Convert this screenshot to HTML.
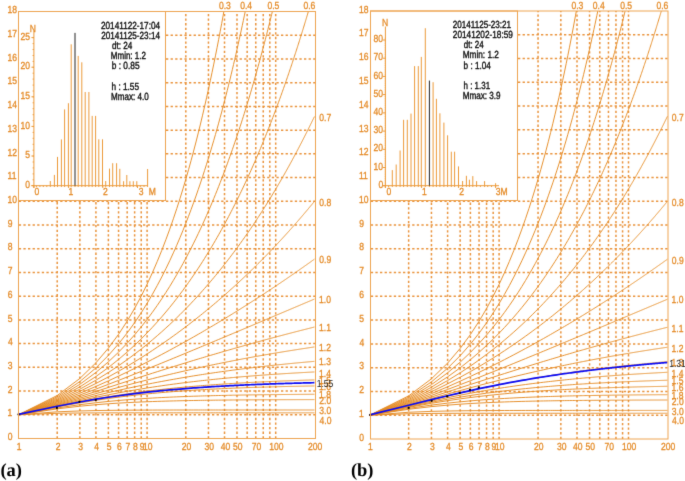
<!DOCTYPE html><html><head><meta charset="utf-8"><style>html,body{margin:0;padding:0;background:#fff;}svg{display:block;will-change:transform;}text{font-family:"Liberation Sans", sans-serif;text-rendering:geometricPrecision;}</style></head><body>
<svg width="685" height="481" viewBox="0 0 685 481">
<defs><filter id="soft" x="0" y="0" width="685" height="481" filterUnits="userSpaceOnUse" color-interpolation-filters="sRGB"><feConvolveMatrix order="3" kernelMatrix="1 8 1 8 64 8 1 8 1" divisor="100" edgeMode="duplicate" preserveAlpha="true"/></filter></defs>
<g filter="url(#soft)">
<rect width="685" height="481" fill="#fff"/>
<g stroke="#e9923a" stroke-width="1.50" stroke-dasharray="2.3 2.3" stroke-dashoffset="-0.30" fill="none"><line x1="18.50" y1="414.78" x2="315.50" y2="414.78"/><line x1="18.50" y1="391.06" x2="315.50" y2="391.06"/><line x1="18.50" y1="367.34" x2="315.50" y2="367.34"/><line x1="18.50" y1="343.62" x2="315.50" y2="343.62"/><line x1="18.50" y1="319.90" x2="315.50" y2="319.90"/><line x1="18.50" y1="296.18" x2="315.50" y2="296.18"/><line x1="18.50" y1="272.46" x2="315.50" y2="272.46"/><line x1="18.50" y1="248.74" x2="315.50" y2="248.74"/><line x1="18.50" y1="225.02" x2="315.50" y2="225.02"/><line x1="18.50" y1="201.30" x2="315.50" y2="201.30"/><line x1="18.50" y1="177.58" x2="315.50" y2="177.58"/><line x1="18.50" y1="153.86" x2="315.50" y2="153.86"/><line x1="18.50" y1="130.14" x2="315.50" y2="130.14"/><line x1="18.50" y1="106.42" x2="315.50" y2="106.42"/><line x1="18.50" y1="82.70" x2="315.50" y2="82.70"/><line x1="18.50" y1="58.98" x2="315.50" y2="58.98"/><line x1="18.50" y1="35.26" x2="315.50" y2="35.26"/></g>
<g stroke="#e9923a" stroke-width="1.50" stroke-dasharray="2.3 2.29" stroke-dashoffset="0.00" fill="none"><line x1="57.21" y1="438.50" x2="57.21" y2="11.50"/><line x1="79.86" y1="438.50" x2="79.86" y2="11.50"/><line x1="95.92" y1="438.50" x2="95.92" y2="11.50"/><line x1="108.39" y1="438.50" x2="108.39" y2="11.50"/><line x1="118.57" y1="438.50" x2="118.57" y2="11.50"/><line x1="127.18" y1="438.50" x2="127.18" y2="11.50"/><line x1="134.64" y1="438.50" x2="134.64" y2="11.50"/><line x1="141.22" y1="438.50" x2="141.22" y2="11.50"/><line x1="147.10" y1="438.50" x2="147.10" y2="11.50"/><line x1="185.81" y1="438.50" x2="185.81" y2="11.50"/><line x1="208.46" y1="438.50" x2="208.46" y2="11.50"/><line x1="224.52" y1="438.50" x2="224.52" y2="11.50"/><line x1="236.99" y1="438.50" x2="236.99" y2="11.50"/><line x1="247.17" y1="438.50" x2="247.17" y2="11.50"/><line x1="255.78" y1="438.50" x2="255.78" y2="11.50"/><line x1="263.24" y1="438.50" x2="263.24" y2="11.50"/><line x1="269.82" y1="438.50" x2="269.82" y2="11.50"/><line x1="275.70" y1="438.50" x2="275.70" y2="11.50"/></g>
<g stroke="#e58a22" stroke-width="0.95" fill="none" stroke-linejoin="round"><polyline points="18.50,414.78 57.21,395.51 79.86,378.45 95.92,362.80 108.39,348.17 118.57,334.31 127.18,321.08 134.64,308.37 141.22,296.10 147.10,284.21 152.42,272.66 157.28,261.40 161.75,250.41 165.89,239.67 169.75,229.14 173.35,218.82 176.74,208.68 179.93,198.71 182.95,188.91 185.81,179.25 188.54,169.73 191.14,160.35 193.62,151.09 196.00,141.95 198.28,132.92 200.47,123.99 202.57,115.17 204.60,106.44 206.56,97.80 208.46,89.25 210.29,80.78 212.06,72.40 213.78,64.09 215.45,55.85 217.07,47.69 218.64,39.59 220.17,31.56 221.66,23.60 223.11,15.70 223.87,11.50"/><polyline points="18.50,414.78 57.21,396.80 79.86,381.52 95.92,367.90 108.39,355.43 118.57,343.85 127.18,332.96 134.64,322.63 141.22,312.79 147.10,303.34 152.42,294.25 157.28,285.47 161.75,276.97 165.89,268.72 169.75,260.69 173.35,252.86 176.74,245.23 179.93,237.76 182.95,230.46 185.81,223.30 188.54,216.28 191.14,209.39 193.62,202.63 196.00,195.97 198.28,189.43 200.47,182.98 202.57,176.64 204.60,170.38 206.56,164.21 208.46,158.13 210.29,152.12 212.06,146.19 213.78,140.33 215.45,134.55 217.07,128.83 218.64,123.17 220.17,117.57 221.66,112.04 223.11,106.56 224.52,101.13 225.90,95.76 227.25,90.45 228.56,85.18 229.85,79.96 231.10,74.78 232.33,69.65 233.53,64.57 234.71,59.53 235.86,54.52 236.99,49.56 238.09,44.64 239.18,39.76 240.24,34.91 241.29,30.10 242.31,25.33 243.32,20.59 244.31,15.88 245.22,11.50"/><polyline points="18.50,414.78 57.21,398.01 79.86,384.31 95.92,372.45 108.39,361.84 118.57,352.16 127.18,343.20 134.64,334.81 141.22,326.90 147.10,319.40 152.42,312.25 157.28,305.40 161.75,298.82 165.89,292.48 169.75,286.36 173.35,280.43 176.74,274.68 179.93,269.09 182.95,263.64 185.81,258.34 188.54,253.16 191.14,248.11 193.62,243.16 196.00,238.32 198.28,233.58 200.47,228.92 202.57,224.36 204.60,219.88 206.56,215.47 208.46,211.14 210.29,206.88 212.06,202.69 213.78,198.56 215.45,194.49 217.07,190.48 218.64,186.53 220.17,182.63 221.66,178.78 223.11,174.98 224.52,171.23 225.90,167.53 227.25,163.87 228.56,160.25 229.85,156.67 231.10,153.14 232.33,149.64 233.53,146.18 234.71,142.76 235.86,139.37 236.99,136.01 238.09,132.69 239.18,129.40 240.24,126.14 241.29,122.92 242.31,119.72 243.32,116.55 244.31,113.41 245.28,110.29 246.23,107.20 247.17,104.14 248.09,101.10 249.00,98.09 249.90,95.10 250.77,92.14 251.64,89.20 252.49,86.28 253.33,83.38 254.16,80.50 254.98,77.65 255.78,74.81 256.57,72.00 257.35,69.20 258.12,66.43 258.88,63.67 259.63,60.93 260.37,58.21 261.10,55.51 261.82,52.82 262.53,50.15 263.24,47.50 263.93,44.86 264.62,42.24 265.29,39.64 265.96,37.05 266.62,34.48 267.28,31.92 267.92,29.38 268.56,26.85 269.19,24.34 269.82,21.84 270.43,19.35 271.04,16.88 271.65,14.42 272.24,11.97 272.36,11.50"/><polyline points="18.50,414.78 57.21,399.13 79.86,386.86 95.92,376.54 108.39,367.51 118.57,359.41 127.18,352.03 134.64,345.22 141.22,338.87 147.10,332.91 152.42,327.29 157.28,321.95 161.75,316.85 165.89,311.99 169.75,307.31 173.35,302.82 176.74,298.49 179.93,294.30 182.95,290.25 185.81,286.31 188.54,282.50 191.14,278.78 193.62,275.17 196.00,271.65 198.28,268.21 200.47,264.85 202.57,261.57 204.60,258.35 206.56,255.21 208.46,252.13 210.29,249.10 212.06,246.14 213.78,243.23 215.45,240.37 217.07,237.56 218.64,234.80 220.17,232.08 221.66,229.40 223.11,226.77 224.52,224.18 225.90,221.62 227.25,219.10 228.56,216.62 229.85,214.17 231.10,211.76 232.33,209.37 233.53,207.02 234.71,204.69 235.86,202.40 236.99,200.13 238.09,197.88 239.18,195.67 240.24,193.48 241.29,191.31 242.31,189.17 243.32,187.05 244.31,184.95 245.28,182.88 246.23,180.82 247.17,178.79 248.09,176.78 249.00,174.78 249.90,172.81 250.77,170.85 251.64,168.92 252.49,166.99 253.33,165.09 254.16,163.21 254.98,161.34 255.78,159.48 256.57,157.64 257.35,155.82 258.12,154.01 258.88,152.22 259.63,150.44 260.37,148.68 261.10,146.93 261.82,145.19 262.53,143.47 263.24,141.75 263.93,140.06 264.62,138.37 265.29,136.70 265.96,135.03 266.62,133.38 267.28,131.75 267.92,130.12 268.56,128.50 269.19,126.90 269.82,125.30 270.43,123.72 271.04,122.15 271.65,120.58 272.24,119.03 272.84,117.49 273.42,115.95 274.00,114.43 274.57,112.91 275.14,111.41 275.70,109.91 276.26,108.42 276.81,106.95 277.35,105.47 277.89,104.01 278.42,102.56 278.95,101.11 279.48,99.68 280.00,98.25 280.51,96.83 281.02,95.41 281.53,94.01 282.03,92.61 282.53,91.22 283.02,89.84 283.51,88.46 283.99,87.09 284.47,85.73 284.94,84.37 285.42,83.02 285.88,81.68 286.35,80.35 286.81,79.02 287.26,77.70 287.71,76.38 288.16,75.07 288.61,73.77 289.05,72.47 289.49,71.18 289.92,69.90 290.35,68.62 290.78,67.35 291.21,66.08 291.63,64.82 292.05,63.56 292.46,62.31 292.87,61.07 293.28,59.83 293.69,58.60 294.09,57.37 294.49,56.14 294.89,54.93 295.28,53.71 295.68,52.51 296.07,51.30 296.45,50.11 296.84,48.91 297.22,47.73 297.60,46.54 297.97,45.37 298.35,44.19 298.72,43.02 299.09,41.86 299.45,40.70 299.82,39.54 300.18,38.39 300.54,37.25 300.89,36.11 301.25,34.97 301.60,33.84 301.95,32.71 302.30,31.58 302.64,30.46 302.99,29.34 303.33,28.23 303.67,27.12 304.01,26.02 304.34,24.92 304.67,23.82 305.01,22.73 305.34,21.64 305.66,20.56 305.99,19.48 306.31,18.40 306.63,17.33 306.95,16.26 307.27,15.19 307.59,14.13 307.90,13.07 308.22,12.01 308.37,11.50"/><polyline points="18.50,414.78 57.21,400.18 79.86,389.19 95.92,380.20 108.39,372.51 118.57,365.74 127.18,359.67 134.64,354.13 141.22,349.04 147.10,344.31 152.42,339.88 157.28,335.71 161.75,331.77 165.89,328.03 169.75,324.47 173.35,321.07 176.74,317.80 179.93,314.66 182.95,311.64 185.81,308.73 188.54,305.92 191.14,303.19 193.62,300.55 196.00,297.98 198.28,295.49 200.47,293.07 202.57,290.71 204.60,288.40 206.56,286.16 208.46,283.96 210.29,281.82 212.06,279.72 213.78,277.67 215.45,275.66 217.07,273.69 218.64,271.76 220.17,269.87 221.66,268.01 223.11,266.19 224.52,264.39 225.90,262.63 227.25,260.90 228.56,259.19 229.85,257.51 231.10,255.86 232.33,254.24 233.53,252.63 234.71,251.06 235.86,249.50 236.99,247.97 238.09,246.45 239.18,244.96 240.24,243.49 241.29,242.03 242.31,240.60 243.32,239.18 244.31,237.78 245.28,236.40 246.23,235.03 247.17,233.68 248.09,232.35 249.00,231.03 249.90,229.72 250.77,228.43 251.64,227.16 252.49,225.89 253.33,224.64 254.16,223.41 254.98,222.18 255.78,220.97 256.57,219.77 257.35,218.58 258.12,217.40 258.88,216.24 259.63,215.08 260.37,213.94 261.10,212.81 261.82,211.68 262.53,210.57 263.24,209.46 263.93,208.37 264.62,207.28 265.29,206.21 265.96,205.14 266.62,204.08 267.28,203.03 267.92,201.99 268.56,200.96 269.19,199.94 269.82,198.92 270.43,197.91 271.04,196.91 271.65,195.92 272.24,194.93 272.84,193.95 273.42,192.98 274.00,192.01 274.57,191.06 275.14,190.11 275.70,189.16 276.26,188.22 276.81,187.29 277.35,186.37 277.89,185.45 278.42,184.54 278.95,183.63 279.48,182.73 280.00,181.83 280.51,180.95 281.02,180.06 281.53,179.18 282.03,178.31 282.53,177.44 283.02,176.58 283.51,175.73 283.99,174.88 284.47,174.03 284.94,173.19 285.42,172.35 285.88,171.52 286.35,170.70 286.81,169.87 287.26,169.06 287.71,168.24 288.16,167.44 288.61,166.63 289.05,165.83 289.49,165.04 289.92,164.25 290.35,163.46 290.78,162.68 291.21,161.91 291.63,161.13 292.05,160.36 292.46,159.60 292.87,158.84 293.28,158.08 293.69,157.32 294.09,156.57 294.49,155.83 294.89,155.09 295.28,154.35 295.68,153.61 296.07,152.88 296.45,152.15 296.84,151.43 297.22,150.71 297.60,149.99 297.97,149.27 298.35,148.56 298.72,147.86 299.09,147.15 299.45,146.45 299.82,145.75 300.18,145.06 300.54,144.37 300.89,143.68 301.25,142.99 301.60,142.31 301.95,141.63 302.30,140.95 302.64,140.28 302.99,139.61 303.33,138.94 303.67,138.28 304.01,137.61 304.34,136.95 304.67,136.30 305.01,135.64 305.34,134.99 305.66,134.34 305.99,133.70 306.31,133.05 306.63,132.41 306.95,131.77 307.27,131.14 307.59,130.51 307.90,129.87 308.22,129.25 308.53,128.62 308.84,128.00 309.15,127.38 309.45,126.76 309.76,126.14 310.06,125.53 310.36,124.92 310.66,124.31 310.96,123.70 311.25,123.10 311.55,122.49 311.84,121.89 312.13,121.29 312.42,120.70 312.71,120.10 313.00,119.51 313.28,118.92 313.57,118.34 313.85,117.75 314.13,117.17 314.41,116.59"/><polyline points="18.50,414.78 57.21,401.16 79.86,391.31 95.92,383.48 108.39,376.94 118.57,371.28 127.18,366.28 134.64,361.78 141.22,357.69 147.10,353.94 152.42,350.45 157.28,347.20 161.75,344.16 165.89,341.28 169.75,338.57 173.35,335.98 176.74,333.52 179.93,331.18 182.95,328.93 185.81,326.77 188.54,324.69 191.14,322.69 193.62,320.76 196.00,318.89 198.28,317.09 200.47,315.34 202.57,313.64 204.60,311.99 206.56,310.38 208.46,308.82 210.29,307.30 212.06,305.82 213.78,304.37 215.45,302.96 217.07,301.58 218.64,300.23 220.17,298.91 221.66,297.62 223.11,296.35 224.52,295.11 225.90,293.90 227.25,292.71 228.56,291.54 229.85,290.39 231.10,289.26 232.33,288.15 233.53,287.06 234.71,285.99 235.86,284.93 236.99,283.90 238.09,282.87 239.18,281.87 240.24,280.88 241.29,279.90 242.31,278.94 243.32,277.99 244.31,277.06 245.28,276.14 246.23,275.23 247.17,274.33 248.09,273.45 249.00,272.58 249.90,271.71 250.77,270.86 251.64,270.02 252.49,269.19 253.33,268.37 254.16,267.56 254.98,266.76 255.78,265.96 256.57,265.18 257.35,264.41 258.12,263.64 258.88,262.88 259.63,262.13 260.37,261.39 261.10,260.65 261.82,259.93 262.53,259.21 263.24,258.50 263.93,257.79 264.62,257.09 265.29,256.40 265.96,255.72 266.62,255.04 267.28,254.37 267.92,253.70 268.56,253.04 269.19,252.39 269.82,251.74 270.43,251.09 271.04,250.46 271.65,249.83 272.24,249.20 272.84,248.58 273.42,247.96 274.00,247.35 274.57,246.75 275.14,246.15 275.70,245.55 276.26,244.96 276.81,244.37 277.35,243.79 277.89,243.21 278.42,242.64 278.95,242.07 279.48,241.51 280.00,240.95 280.51,240.39 281.02,239.84 281.53,239.29 282.03,238.75 282.53,238.21 283.02,237.67 283.51,237.14 283.99,236.61 284.47,236.08 284.94,235.56 285.42,235.04 285.88,234.53 286.35,234.02 286.81,233.51 287.26,233.00 287.71,232.50 288.16,232.00 288.61,231.51 289.05,231.02 289.49,230.53 289.92,230.04 290.35,229.56 290.78,229.08 291.21,228.60 291.63,228.13 292.05,227.65 292.46,227.19 292.87,226.72 293.28,226.26 293.69,225.80 294.09,225.34 294.49,224.88 294.89,224.43 295.28,223.98 295.68,223.53 296.07,223.09 296.45,222.65 296.84,222.21 297.22,221.77 297.60,221.33 297.97,220.90 298.35,220.47 298.72,220.04 299.09,219.61 299.45,219.19 299.82,218.77 300.18,218.35 300.54,217.93 300.89,217.52 301.25,217.10 301.60,216.69 301.95,216.28 302.30,215.88 302.64,215.47 302.99,215.07 303.33,214.67 303.67,214.27 304.01,213.87 304.34,213.47 304.67,213.08 305.01,212.69 305.34,212.30 305.66,211.91 305.99,211.53 306.31,211.14 306.63,210.76 306.95,210.38 307.27,210.00 307.59,209.62 307.90,209.25 308.22,208.87 308.53,208.50 308.84,208.13 309.15,207.76 309.45,207.39 309.76,207.03 310.06,206.66 310.36,206.30 310.66,205.94 310.96,205.58 311.25,205.22 311.55,204.86 311.84,204.51 312.13,204.16 312.42,203.80 312.71,203.45 313.00,203.10 313.28,202.76 313.57,202.41 313.85,202.06 314.13,201.72 314.41,201.38"/><polyline points="18.50,414.78 57.21,402.07 79.86,393.24 95.92,386.43 108.39,380.86 118.57,376.13 127.18,372.01 134.64,368.36 141.22,365.08 147.10,362.09 152.42,359.35 157.28,356.82 161.75,354.46 165.89,352.26 169.75,350.18 173.35,348.23 176.74,346.37 179.93,344.61 182.95,342.94 185.81,341.34 188.54,339.81 191.14,338.34 193.62,336.93 196.00,335.57 198.28,334.26 200.47,333.00 202.57,331.77 204.60,330.59 206.56,329.45 208.46,328.34 210.29,327.26 212.06,326.21 213.78,325.19 215.45,324.20 217.07,323.23 218.64,322.29 220.17,321.37 221.66,320.47 223.11,319.59 224.52,318.73 225.90,317.90 227.25,317.07 228.56,316.27 229.85,315.48 231.10,314.71 232.33,313.96 233.53,313.21 234.71,312.49 235.86,311.77 236.99,311.07 238.09,310.38 239.18,309.70 240.24,309.04 241.29,308.38 242.31,307.74 243.32,307.11 244.31,306.48 245.28,305.87 246.23,305.27 247.17,304.67 248.09,304.08 249.00,303.51 249.90,302.94 250.77,302.37 251.64,301.82 252.49,301.27 253.33,300.73 254.16,300.20 254.98,299.68 255.78,299.16 256.57,298.65 257.35,298.14 258.12,297.64 258.88,297.15 259.63,296.66 260.37,296.18 261.10,295.71 261.82,295.24 262.53,294.77 263.24,294.31 263.93,293.86 264.62,293.41 265.29,292.96 265.96,292.52 266.62,292.09 267.28,291.66 267.92,291.23 268.56,290.81 269.19,290.39 269.82,289.98 270.43,289.57 271.04,289.16 271.65,288.76 272.24,288.37 272.84,287.97 273.42,287.58 274.00,287.20 274.57,286.81 275.14,286.43 275.70,286.06 276.26,285.69 276.81,285.32 277.35,284.95 277.89,284.59 278.42,284.23 278.95,283.87 279.48,283.52 280.00,283.17 280.51,282.82 281.02,282.47 281.53,282.13 282.03,281.79 282.53,281.45 283.02,281.12 283.51,280.79 283.99,280.46 284.47,280.13 284.94,279.81 285.42,279.49 285.88,279.17 286.35,278.85 286.81,278.54 287.26,278.23 287.71,277.92 288.16,277.61 288.61,277.30 289.05,277.00 289.49,276.70 289.92,276.40 290.35,276.10 290.78,275.81 291.21,275.52 291.63,275.23 292.05,274.94 292.46,274.65 292.87,274.36 293.28,274.08 293.69,273.80 294.09,273.52 294.49,273.24 294.89,272.97 295.28,272.69 295.68,272.42 296.07,272.15 296.45,271.88 296.84,271.61 297.22,271.35 297.60,271.08 297.97,270.82 298.35,270.56 298.72,270.30 299.09,270.04 299.45,269.79 299.82,269.53 300.18,269.28 300.54,269.03 300.89,268.77 301.25,268.53 301.60,268.28 301.95,268.03 302.30,267.79 302.64,267.54 302.99,267.30 303.33,267.06 303.67,266.82 304.01,266.58 304.34,266.35 304.67,266.11 305.01,265.88 305.34,265.64 305.66,265.41 305.99,265.18 306.31,264.95 306.63,264.72 306.95,264.49 307.27,264.27 307.59,264.04 307.90,263.82 308.22,263.60 308.53,263.38 308.84,263.16 309.15,262.94 309.45,262.72 309.76,262.50 310.06,262.28 310.36,262.07 310.66,261.86 310.96,261.64 311.25,261.43 311.55,261.22 311.84,261.01 312.13,260.80 312.42,260.59 312.71,260.39 313.00,260.18 313.28,259.97 313.57,259.77 313.85,259.57 314.13,259.36 314.41,259.16"/><polyline points="18.50,414.78 57.21,402.92 79.86,395.01 95.92,389.08 108.39,384.34 118.57,380.39 127.18,377.00 134.64,374.03 141.22,371.40 147.10,369.02 152.42,366.87 157.28,364.89 161.75,363.07 165.89,361.37 169.75,359.79 173.35,358.31 176.74,356.91 179.93,355.60 182.95,354.35 185.81,353.16 188.54,352.03 191.14,350.95 193.62,349.92 196.00,348.93 198.28,347.99 200.47,347.07 202.57,346.19 204.60,345.35 206.56,344.53 208.46,343.74 210.29,342.97 212.06,342.23 213.78,341.51 215.45,340.82 217.07,340.14 218.64,339.48 220.17,338.84 221.66,338.21 223.11,337.61 224.52,337.01 225.90,336.43 227.25,335.87 228.56,335.32 229.85,334.78 231.10,334.25 232.33,333.74 233.53,333.23 234.71,332.74 235.86,332.25 236.99,331.78 238.09,331.31 239.18,330.86 240.24,330.41 241.29,329.97 242.31,329.54 243.32,329.12 244.31,328.70 245.28,328.29 246.23,327.89 247.17,327.49 248.09,327.10 249.00,326.72 249.90,326.35 250.77,325.97 251.64,325.61 252.49,325.25 253.33,324.90 254.16,324.55 254.98,324.20 255.78,323.87 256.57,323.53 257.35,323.20 258.12,322.88 258.88,322.56 259.63,322.24 260.37,321.93 261.10,321.62 261.82,321.32 262.53,321.02 263.24,320.72 263.93,320.43 264.62,320.14 265.29,319.85 265.96,319.57 266.62,319.29 267.28,319.01 267.92,318.74 268.56,318.47 269.19,318.20 269.82,317.94 270.43,317.68 271.04,317.42 271.65,317.17 272.24,316.92 272.84,316.67 273.42,316.42 274.00,316.17 274.57,315.93 275.14,315.69 275.70,315.46 276.26,315.22 276.81,314.99 277.35,314.76 277.89,314.53 278.42,314.30 278.95,314.08 279.48,313.86 280.00,313.64 280.51,313.42 281.02,313.21 281.53,312.99 282.03,312.78 282.53,312.57 283.02,312.36 283.51,312.16 283.99,311.95 284.47,311.75 284.94,311.55 285.42,311.35 285.88,311.15 286.35,310.95 286.81,310.76 287.26,310.57 287.71,310.38 288.16,310.19 288.61,310.00 289.05,309.81 289.49,309.63 289.92,309.44 290.35,309.26 290.78,309.08 291.21,308.90 291.63,308.72 292.05,308.54 292.46,308.37 292.87,308.19 293.28,308.02 293.69,307.85 294.09,307.68 294.49,307.51 294.89,307.34 295.28,307.17 295.68,307.01 296.07,306.84 296.45,306.68 296.84,306.52 297.22,306.35 297.60,306.19 297.97,306.04 298.35,305.88 298.72,305.72 299.09,305.56 299.45,305.41 299.82,305.25 300.18,305.10 300.54,304.95 300.89,304.80 301.25,304.65 301.60,304.50 301.95,304.35 302.30,304.20 302.64,304.06 302.99,303.91 303.33,303.77 303.67,303.62 304.01,303.48 304.34,303.34 304.67,303.20 305.01,303.06 305.34,302.92 305.66,302.78 305.99,302.64 306.31,302.50 306.63,302.37 306.95,302.23 307.27,302.10 307.59,301.96 307.90,301.83 308.22,301.70 308.53,301.57 308.84,301.43 309.15,301.30 309.45,301.17 309.76,301.05 310.06,300.92 310.36,300.79 310.66,300.66 310.96,300.54 311.25,300.41 311.55,300.29 311.84,300.16 312.13,300.04 312.42,299.92 312.71,299.79 313.00,299.67 313.28,299.55 313.57,299.43 313.85,299.31 314.13,299.19 314.41,299.07"/><polyline points="18.50,414.78 57.21,403.71 79.86,396.63 95.92,391.47 108.39,387.43 118.57,384.12 127.18,381.33 134.64,378.93 141.22,376.81 147.10,374.93 152.42,373.23 157.28,371.69 161.75,370.28 165.89,368.98 169.75,367.77 173.35,366.65 176.74,365.59 179.93,364.61 182.95,363.68 185.81,362.80 188.54,361.97 191.14,361.17 193.62,360.42 196.00,359.70 198.28,359.01 200.47,358.35 202.57,357.72 204.60,357.12 206.56,356.53 208.46,355.97 210.29,355.43 212.06,354.90 213.78,354.40 215.45,353.91 217.07,353.43 218.64,352.97 220.17,352.52 221.66,352.09 223.11,351.67 224.52,351.26 225.90,350.86 227.25,350.47 228.56,350.09 229.85,349.72 231.10,349.36 232.33,349.01 233.53,348.67 234.71,348.33 235.86,348.00 236.99,347.68 238.09,347.37 239.18,347.06 240.24,346.76 241.29,346.47 242.31,346.18 243.32,345.89 244.31,345.62 245.28,345.34 246.23,345.08 247.17,344.81 248.09,344.56 249.00,344.30 249.90,344.05 250.77,343.81 251.64,343.57 252.49,343.33 253.33,343.10 254.16,342.87 254.98,342.65 255.78,342.42 256.57,342.21 257.35,341.99 258.12,341.78 258.88,341.57 259.63,341.37 260.37,341.16 261.10,340.96 261.82,340.77 262.53,340.57 263.24,340.38 263.93,340.19 264.62,340.01 265.29,339.82 265.96,339.64 266.62,339.46 267.28,339.29 267.92,339.11 268.56,338.94 269.19,338.77 269.82,338.60 270.43,338.44 271.04,338.27 271.65,338.11 272.24,337.95 272.84,337.79 273.42,337.63 274.00,337.48 274.57,337.33 275.14,337.17 275.70,337.03 276.26,336.88 276.81,336.73 277.35,336.59 277.89,336.44 278.42,336.30 278.95,336.16 279.48,336.02 280.00,335.88 280.51,335.75 281.02,335.61 281.53,335.48 282.03,335.35 282.53,335.22 283.02,335.09 283.51,334.96 283.99,334.83 284.47,334.71 284.94,334.58 285.42,334.46 285.88,334.33 286.35,334.21 286.81,334.09 287.26,333.97 287.71,333.86 288.16,333.74 288.61,333.62 289.05,333.51 289.49,333.39 289.92,333.28 290.35,333.17 290.78,333.06 291.21,332.95 291.63,332.84 292.05,332.73 292.46,332.62 292.87,332.51 293.28,332.41 293.69,332.30 294.09,332.20 294.49,332.10 294.89,331.99 295.28,331.89 295.68,331.79 296.07,331.69 296.45,331.59 296.84,331.49 297.22,331.39 297.60,331.30 297.97,331.20 298.35,331.11 298.72,331.01 299.09,330.92 299.45,330.82 299.82,330.73 300.18,330.64 300.54,330.54 300.89,330.45 301.25,330.36 301.60,330.27 301.95,330.18 302.30,330.10 302.64,330.01 302.99,329.92 303.33,329.83 303.67,329.75 304.01,329.66 304.34,329.58 304.67,329.49 305.01,329.41 305.34,329.32 305.66,329.24 305.99,329.16 306.31,329.08 306.63,329.00 306.95,328.91 307.27,328.83 307.59,328.75 307.90,328.67 308.22,328.60 308.53,328.52 308.84,328.44 309.15,328.36 309.45,328.28 309.76,328.21 310.06,328.13 310.36,328.06 310.66,327.98 310.96,327.91 311.25,327.83 311.55,327.76 311.84,327.69 312.13,327.61 312.42,327.54 312.71,327.47 313.00,327.40 313.28,327.32 313.57,327.25 313.85,327.18 314.13,327.11 314.41,327.04"/><polyline points="18.50,414.78 57.21,404.46 79.86,398.11 95.92,393.61 108.39,390.18 118.57,387.41 127.18,385.12 134.64,383.16 141.22,381.46 147.10,379.97 152.42,378.63 157.28,377.43 161.75,376.34 165.89,375.34 169.75,374.42 173.35,373.57 176.74,372.77 179.93,372.03 182.95,371.34 185.81,370.69 188.54,370.08 191.14,369.49 193.62,368.94 196.00,368.42 198.28,367.92 200.47,367.45 202.57,366.99 204.60,366.56 206.56,366.14 208.46,365.74 210.29,365.35 212.06,364.98 213.78,364.63 215.45,364.28 217.07,363.95 218.64,363.63 220.17,363.32 221.66,363.01 223.11,362.72 224.52,362.44 225.90,362.16 227.25,361.90 228.56,361.64 229.85,361.38 231.10,361.14 232.33,360.90 233.53,360.66 234.71,360.44 235.86,360.21 236.99,360.00 238.09,359.78 239.18,359.58 240.24,359.37 241.29,359.18 242.31,358.98 243.32,358.79 244.31,358.61 245.28,358.43 246.23,358.25 247.17,358.08 248.09,357.90 249.00,357.74 249.90,357.57 250.77,357.41 251.64,357.25 252.49,357.10 253.33,356.94 254.16,356.79 254.98,356.65 255.78,356.50 256.57,356.36 257.35,356.22 258.12,356.08 258.88,355.95 259.63,355.81 260.37,355.68 261.10,355.55 261.82,355.43 262.53,355.30 263.24,355.18 263.93,355.05 264.62,354.94 265.29,354.82 265.96,354.70 266.62,354.59 267.28,354.47 267.92,354.36 268.56,354.25 269.19,354.14 269.82,354.04 270.43,353.93 271.04,353.83 271.65,353.72 272.24,353.62 272.84,353.52 273.42,353.42 274.00,353.32 274.57,353.23 275.14,353.13 275.70,353.04 276.26,352.94 276.81,352.85 277.35,352.76 277.89,352.67 278.42,352.58 278.95,352.49 279.48,352.41 280.00,352.32 280.51,352.23 281.02,352.15 281.53,352.07 282.03,351.98 282.53,351.90 283.02,351.82 283.51,351.74 283.99,351.66 284.47,351.58 284.94,351.51 285.42,351.43 285.88,351.35 286.35,351.28 286.81,351.21 287.26,351.13 287.71,351.06 288.16,350.99 288.61,350.91 289.05,350.84 289.49,350.77 289.92,350.70 290.35,350.64 290.78,350.57 291.21,350.50 291.63,350.43 292.05,350.37 292.46,350.30 292.87,350.23 293.28,350.17 293.69,350.11 294.09,350.04 294.49,349.98 294.89,349.92 295.28,349.85 295.68,349.79 296.07,349.73 296.45,349.67 296.84,349.61 297.22,349.55 297.60,349.49 297.97,349.43 298.35,349.38 298.72,349.32 299.09,349.26 299.45,349.21 299.82,349.15 300.18,349.09 300.54,349.04 300.89,348.98 301.25,348.93 301.60,348.87 301.95,348.82 302.30,348.77 302.64,348.71 302.99,348.66 303.33,348.61 303.67,348.56 304.01,348.51 304.34,348.46 304.67,348.40 305.01,348.35 305.34,348.30 305.66,348.25 305.99,348.21 306.31,348.16 306.63,348.11 306.95,348.06 307.27,348.01 307.59,347.96 307.90,347.92 308.22,347.87 308.53,347.82 308.84,347.78 309.15,347.73 309.45,347.69 309.76,347.64 310.06,347.59 310.36,347.55 310.66,347.51 310.96,347.46 311.25,347.42 311.55,347.37 311.84,347.33 312.13,347.29 312.42,347.24 312.71,347.20 313.00,347.16 313.28,347.12 313.57,347.07 313.85,347.03 314.13,346.99 314.41,346.95"/><polyline points="18.50,414.78 57.21,405.15 79.86,399.46 95.92,395.55 108.39,392.62 118.57,390.31 127.18,388.42 134.64,386.83 141.22,385.47 147.10,384.28 152.42,383.23 157.28,382.29 161.75,381.45 165.89,380.68 169.75,379.98 173.35,379.33 176.74,378.74 179.93,378.18 182.95,377.67 185.81,377.18 188.54,376.73 191.14,376.30 193.62,375.90 196.00,375.52 198.28,375.16 200.47,374.81 202.57,374.49 204.60,374.18 206.56,373.88 208.46,373.59 210.29,373.32 212.06,373.06 213.78,372.81 215.45,372.56 217.07,372.33 218.64,372.11 220.17,371.89 221.66,371.68 223.11,371.48 224.52,371.28 225.90,371.09 227.25,370.91 228.56,370.73 229.85,370.56 231.10,370.39 232.33,370.22 233.53,370.06 234.71,369.91 235.86,369.76 236.99,369.61 238.09,369.47 239.18,369.33 240.24,369.19 241.29,369.06 242.31,368.93 243.32,368.81 244.31,368.68 245.28,368.56 246.23,368.44 247.17,368.33 248.09,368.21 249.00,368.10 249.90,367.99 250.77,367.89 251.64,367.78 252.49,367.68 253.33,367.58 254.16,367.48 254.98,367.39 255.78,367.29 256.57,367.20 257.35,367.11 258.12,367.02 258.88,366.93 259.63,366.84 260.37,366.76 261.10,366.67 261.82,366.59 262.53,366.51 263.24,366.43 263.93,366.35 264.62,366.27 265.29,366.20 265.96,366.12 266.62,366.05 267.28,365.98 267.92,365.91 268.56,365.84 269.19,365.77 269.82,365.70 270.43,365.63 271.04,365.56 271.65,365.50 272.24,365.43 272.84,365.37 273.42,365.31 274.00,365.25 274.57,365.19 275.14,365.12 275.70,365.07 276.26,365.01 276.81,364.95 277.35,364.89 277.89,364.83 278.42,364.78 278.95,364.72 279.48,364.67 280.00,364.61 280.51,364.56 281.02,364.51 281.53,364.46 282.03,364.41 282.53,364.35 283.02,364.30 283.51,364.25 283.99,364.21 284.47,364.16 284.94,364.11 285.42,364.06 285.88,364.01 286.35,363.97 286.81,363.92 287.26,363.88 287.71,363.83 288.16,363.79 288.61,363.74 289.05,363.70 289.49,363.66 289.92,363.61 290.35,363.57 290.78,363.53 291.21,363.49 291.63,363.45 292.05,363.41 292.46,363.36 292.87,363.32 293.28,363.29 293.69,363.25 294.09,363.21 294.49,363.17 294.89,363.13 295.28,363.09 295.68,363.06 296.07,363.02 296.45,362.98 296.84,362.95 297.22,362.91 297.60,362.87 297.97,362.84 298.35,362.80 298.72,362.77 299.09,362.73 299.45,362.70 299.82,362.66 300.18,362.63 300.54,362.60 300.89,362.56 301.25,362.53 301.60,362.50 301.95,362.47 302.30,362.43 302.64,362.40 302.99,362.37 303.33,362.34 303.67,362.31 304.01,362.28 304.34,362.25 304.67,362.22 305.01,362.19 305.34,362.16 305.66,362.13 305.99,362.10 306.31,362.07 306.63,362.04 306.95,362.01 307.27,361.98 307.59,361.95 307.90,361.93 308.22,361.90 308.53,361.87 308.84,361.84 309.15,361.82 309.45,361.79 309.76,361.76 310.06,361.73 310.36,361.71 310.66,361.68 310.96,361.66 311.25,361.63 311.55,361.60 311.84,361.58 312.13,361.55 312.42,361.53 312.71,361.50 313.00,361.48 313.28,361.45 313.57,361.43 313.85,361.40 314.13,361.38 314.41,361.35"/><polyline points="18.50,414.78 57.21,405.79 79.86,400.70 95.92,397.29 108.39,394.80 118.57,392.87 127.18,391.31 134.64,390.02 141.22,388.93 147.10,387.98 152.42,387.16 157.28,386.43 161.75,385.77 165.89,385.18 169.75,384.65 173.35,384.16 176.74,383.71 179.93,383.29 182.95,382.91 185.81,382.55 188.54,382.22 191.14,381.90 193.62,381.61 196.00,381.33 198.28,381.07 200.47,380.82 202.57,380.59 204.60,380.36 206.56,380.15 208.46,379.95 210.29,379.75 212.06,379.57 213.78,379.39 215.45,379.22 217.07,379.06 218.64,378.90 220.17,378.75 221.66,378.60 223.11,378.46 224.52,378.33 225.90,378.20 227.25,378.07 228.56,377.95 229.85,377.83 231.10,377.71 232.33,377.60 233.53,377.49 234.71,377.39 235.86,377.29 236.99,377.19 238.09,377.09 239.18,377.00 240.24,376.91 241.29,376.82 242.31,376.73 243.32,376.65 244.31,376.56 245.28,376.48 246.23,376.40 247.17,376.33 248.09,376.25 249.00,376.18 249.90,376.11 250.77,376.04 251.64,375.97 252.49,375.90 253.33,375.83 254.16,375.77 254.98,375.71 255.78,375.65 256.57,375.58 257.35,375.52 258.12,375.47 258.88,375.41 259.63,375.35 260.37,375.30 261.10,375.24 261.82,375.19 262.53,375.14 263.24,375.09 263.93,375.04 264.62,374.99 265.29,374.94 265.96,374.89 266.62,374.84 267.28,374.80 267.92,374.75 268.56,374.71 269.19,374.66 269.82,374.62 270.43,374.57 271.04,374.53 271.65,374.49 272.24,374.45 272.84,374.41 273.42,374.37 274.00,374.33 274.57,374.29 275.14,374.25 275.70,374.22 276.26,374.18 276.81,374.14 277.35,374.11 277.89,374.07 278.42,374.04 278.95,374.00 279.48,373.97 280.00,373.93 280.51,373.90 281.02,373.87 281.53,373.83 282.03,373.80 282.53,373.77 283.02,373.74 283.51,373.71 283.99,373.68 284.47,373.65 284.94,373.62 285.42,373.59 285.88,373.56 286.35,373.53 286.81,373.50 287.26,373.47 287.71,373.45 288.16,373.42 288.61,373.39 289.05,373.36 289.49,373.34 289.92,373.31 290.35,373.29 290.78,373.26 291.21,373.23 291.63,373.21 292.05,373.18 292.46,373.16 292.87,373.13 293.28,373.11 293.69,373.09 294.09,373.06 294.49,373.04 294.89,373.02 295.28,372.99 295.68,372.97 296.07,372.95 296.45,372.93 296.84,372.90 297.22,372.88 297.60,372.86 297.97,372.84 298.35,372.82 298.72,372.80 299.09,372.78 299.45,372.75 299.82,372.73 300.18,372.71 300.54,372.69 300.89,372.67 301.25,372.65 301.60,372.63 301.95,372.61 302.30,372.60 302.64,372.58 302.99,372.56 303.33,372.54 303.67,372.52 304.01,372.50 304.34,372.48 304.67,372.46 305.01,372.45 305.34,372.43 305.66,372.41 305.99,372.39 306.31,372.38 306.63,372.36 306.95,372.34 307.27,372.32 307.59,372.31 307.90,372.29 308.22,372.27 308.53,372.26 308.84,372.24 309.15,372.22 309.45,372.21 309.76,372.19 310.06,372.18 310.36,372.16 310.66,372.15 310.96,372.13 311.25,372.11 311.55,372.10 311.84,372.08 312.13,372.07 312.42,372.05 312.71,372.04 313.00,372.02 313.28,372.01 313.57,372.00 313.85,371.98 314.13,371.97 314.41,371.95"/><polyline points="18.50,414.78 57.21,406.39 79.86,401.83 95.92,398.86 108.39,396.74 118.57,395.13 127.18,393.85 134.64,392.80 141.22,391.92 147.10,391.17 152.42,390.52 157.28,389.95 161.75,389.44 165.89,388.99 169.75,388.58 173.35,388.21 176.74,387.87 179.93,387.56 182.95,387.28 185.81,387.01 188.54,386.76 191.14,386.54 193.62,386.32 196.00,386.12 198.28,385.93 200.47,385.75 202.57,385.58 204.60,385.42 206.56,385.27 208.46,385.12 210.29,384.99 212.06,384.86 213.78,384.73 215.45,384.61 217.07,384.50 218.64,384.39 220.17,384.28 221.66,384.18 223.11,384.08 224.52,383.99 225.90,383.90 227.25,383.81 228.56,383.73 229.85,383.65 231.10,383.57 232.33,383.49 233.53,383.42 234.71,383.35 235.86,383.28 236.99,383.21 238.09,383.14 239.18,383.08 240.24,383.02 241.29,382.96 242.31,382.90 243.32,382.85 244.31,382.79 245.28,382.74 246.23,382.68 247.17,382.63 248.09,382.58 249.00,382.54 249.90,382.49 250.77,382.44 251.64,382.40 252.49,382.35 253.33,382.31 254.16,382.27 254.98,382.22 255.78,382.18 256.57,382.14 257.35,382.11 258.12,382.07 258.88,382.03 259.63,381.99 260.37,381.96 261.10,381.92 261.82,381.89 262.53,381.86 263.24,381.82 263.93,381.79 264.62,381.76 265.29,381.73 265.96,381.70 266.62,381.66 267.28,381.64 267.92,381.61 268.56,381.58 269.19,381.55 269.82,381.52 270.43,381.49 271.04,381.47 271.65,381.44 272.24,381.41 272.84,381.39 273.42,381.36 274.00,381.34 274.57,381.31 275.14,381.29 275.70,381.27 276.26,381.24 276.81,381.22 277.35,381.20 277.89,381.18 278.42,381.15 278.95,381.13 279.48,381.11 280.00,381.09 280.51,381.07 281.02,381.05 281.53,381.03 282.03,381.01 282.53,380.99 283.02,380.97 283.51,380.95 283.99,380.93 284.47,380.91 284.94,380.89 285.42,380.87 285.88,380.86 286.35,380.84 286.81,380.82 287.26,380.80 287.71,380.79 288.16,380.77 288.61,380.75 289.05,380.74 289.49,380.72 289.92,380.70 290.35,380.69 290.78,380.67 291.21,380.66 291.63,380.64 292.05,380.63 292.46,380.61 292.87,380.59 293.28,380.58 293.69,380.57 294.09,380.55 294.49,380.54 294.89,380.52 295.28,380.51 295.68,380.49 296.07,380.48 296.45,380.47 296.84,380.45 297.22,380.44 297.60,380.43 297.97,380.41 298.35,380.40 298.72,380.39 299.09,380.38 299.45,380.36 299.82,380.35 300.18,380.34 300.54,380.33 300.89,380.31 301.25,380.30 301.60,380.29 301.95,380.28 302.30,380.27 302.64,380.26 302.99,380.24 303.33,380.23 303.67,380.22 304.01,380.21 304.34,380.20 304.67,380.19 305.01,380.18 305.34,380.17 305.66,380.16 305.99,380.15 306.31,380.14 306.63,380.13 306.95,380.12 307.27,380.11 307.59,380.10 307.90,380.09 308.22,380.08 308.53,380.07 308.84,380.06 309.15,380.05 309.45,380.04 309.76,380.03 310.06,380.02 310.36,380.01 310.66,380.00 310.96,379.99 311.25,379.98 311.55,379.97 311.84,379.96 312.13,379.95 312.42,379.94 312.71,379.94 313.00,379.93 313.28,379.92 313.57,379.91 313.85,379.90 314.13,379.89 314.41,379.88"/><polyline points="18.50,414.78 57.21,406.96 79.86,402.87 95.92,400.28 108.39,398.48 118.57,397.13 127.18,396.07 134.64,395.22 141.22,394.52 147.10,393.92 152.42,393.41 157.28,392.97 161.75,392.57 165.89,392.23 169.75,391.91 173.35,391.63 176.74,391.38 179.93,391.15 182.95,390.93 185.81,390.74 188.54,390.55 191.14,390.39 193.62,390.23 196.00,390.08 198.28,389.94 200.47,389.82 202.57,389.69 204.60,389.58 206.56,389.47 208.46,389.37 210.29,389.27 212.06,389.18 213.78,389.09 215.45,389.01 217.07,388.92 218.64,388.85 220.17,388.77 221.66,388.70 223.11,388.64 224.52,388.57 225.90,388.51 227.25,388.45 228.56,388.39 229.85,388.34 231.10,388.28 232.33,388.23 233.53,388.18 234.71,388.13 235.86,388.09 236.99,388.04 238.09,388.00 239.18,387.95 240.24,387.91 241.29,387.87 242.31,387.83 243.32,387.80 244.31,387.76 245.28,387.72 246.23,387.69 247.17,387.65 248.09,387.62 249.00,387.59 249.90,387.56 250.77,387.53 251.64,387.50 252.49,387.47 253.33,387.44 254.16,387.41 254.98,387.38 255.78,387.36 256.57,387.33 257.35,387.31 258.12,387.28 258.88,387.26 259.63,387.23 260.37,387.21 261.10,387.19 261.82,387.17 262.53,387.14 263.24,387.12 263.93,387.10 264.62,387.08 265.29,387.06 265.96,387.04 266.62,387.02 267.28,387.00 267.92,386.98 268.56,386.97 269.19,386.95 269.82,386.93 270.43,386.91 271.04,386.90 271.65,386.88 272.24,386.86 272.84,386.85 273.42,386.83 274.00,386.81 274.57,386.80 275.14,386.78 275.70,386.77 276.26,386.75 276.81,386.74 277.35,386.73 277.89,386.71 278.42,386.70 278.95,386.68 279.48,386.67 280.00,386.66 280.51,386.64 281.02,386.63 281.53,386.62 282.03,386.61 282.53,386.59 283.02,386.58 283.51,386.57 283.99,386.56 284.47,386.55 284.94,386.53 285.42,386.52 285.88,386.51 286.35,386.50 286.81,386.49 287.26,386.48 287.71,386.47 288.16,386.46 288.61,386.45 289.05,386.44 289.49,386.43 289.92,386.42 290.35,386.41 290.78,386.40 291.21,386.39 291.63,386.38 292.05,386.37 292.46,386.36 292.87,386.35 293.28,386.34 293.69,386.33 294.09,386.32 294.49,386.32 294.89,386.31 295.28,386.30 295.68,386.29 296.07,386.28 296.45,386.27 296.84,386.27 297.22,386.26 297.60,386.25 297.97,386.24 298.35,386.23 298.72,386.23 299.09,386.22 299.45,386.21 299.82,386.20 300.18,386.20 300.54,386.19 300.89,386.18 301.25,386.17 301.60,386.17 301.95,386.16 302.30,386.15 302.64,386.15 302.99,386.14 303.33,386.13 303.67,386.13 304.01,386.12 304.34,386.11 304.67,386.11 305.01,386.10 305.34,386.09 305.66,386.09 305.99,386.08 306.31,386.07 306.63,386.07 306.95,386.06 307.27,386.06 307.59,386.05 307.90,386.04 308.22,386.04 308.53,386.03 308.84,386.03 309.15,386.02 309.45,386.01 309.76,386.01 310.06,386.00 310.36,386.00 310.66,385.99 310.96,385.99 311.25,385.98 311.55,385.98 311.84,385.97 312.13,385.97 312.42,385.96 312.71,385.96 313.00,385.95 313.28,385.94 313.57,385.94 313.85,385.93 314.13,385.93 314.41,385.92"/><polyline points="18.50,414.78 57.21,407.97 79.86,404.69 95.92,402.73 108.39,401.42 118.57,400.48 127.18,399.76 134.64,399.20 141.22,398.75 147.10,398.37 152.42,398.05 157.28,397.78 161.75,397.55 165.89,397.34 169.75,397.16 173.35,397.00 176.74,396.86 179.93,396.73 182.95,396.61 185.81,396.50 188.54,396.40 191.14,396.31 193.62,396.23 196.00,396.15 198.28,396.08 200.47,396.01 202.57,395.95 204.60,395.89 206.56,395.83 208.46,395.78 210.29,395.73 212.06,395.68 213.78,395.64 215.45,395.60 217.07,395.56 218.64,395.52 220.17,395.49 221.66,395.45 223.11,395.42 224.52,395.39 225.90,395.36 227.25,395.33 228.56,395.30 229.85,395.28 231.10,395.25 232.33,395.23 233.53,395.20 234.71,395.18 235.86,395.16 236.99,395.14 238.09,395.12 239.18,395.10 240.24,395.08 241.29,395.06 242.31,395.05 243.32,395.03 244.31,395.01 245.28,395.00 246.23,394.98 247.17,394.97 248.09,394.95 249.00,394.94 249.90,394.92 250.77,394.91 251.64,394.90 252.49,394.89 253.33,394.87 254.16,394.86 254.98,394.85 255.78,394.84 256.57,394.83 257.35,394.82 258.12,394.81 258.88,394.80 259.63,394.79 260.37,394.78 261.10,394.77 261.82,394.76 262.53,394.75 263.24,394.74 263.93,394.73 264.62,394.72 265.29,394.71 265.96,394.71 266.62,394.70 267.28,394.69 267.92,394.68 268.56,394.67 269.19,394.67 269.82,394.66 270.43,394.65 271.04,394.65 271.65,394.64 272.24,394.63 272.84,394.63 273.42,394.62 274.00,394.61 274.57,394.61 275.14,394.60 275.70,394.60 276.26,394.59 276.81,394.58 277.35,394.58 277.89,394.57 278.42,394.57 278.95,394.56 279.48,394.56 280.00,394.55 280.51,394.55 281.02,394.54 281.53,394.54 282.03,394.53 282.53,394.53 283.02,394.52 283.51,394.52 283.99,394.51 284.47,394.51 284.94,394.50 285.42,394.50 285.88,394.50 286.35,394.49 286.81,394.49 287.26,394.48 287.71,394.48 288.16,394.47 288.61,394.47 289.05,394.47 289.49,394.46 289.92,394.46 290.35,394.46 290.78,394.45 291.21,394.45 291.63,394.44 292.05,394.44 292.46,394.44 292.87,394.43 293.28,394.43 293.69,394.43 294.09,394.42 294.49,394.42 294.89,394.42 295.28,394.41 295.68,394.41 296.07,394.41 296.45,394.41 296.84,394.40 297.22,394.40 297.60,394.40 297.97,394.39 298.35,394.39 298.72,394.39 299.09,394.38 299.45,394.38 299.82,394.38 300.18,394.38 300.54,394.37 300.89,394.37 301.25,394.37 301.60,394.37 301.95,394.36 302.30,394.36 302.64,394.36 302.99,394.36 303.33,394.35 303.67,394.35 304.01,394.35 304.34,394.35 304.67,394.34 305.01,394.34 305.34,394.34 305.66,394.34 305.99,394.34 306.31,394.33 306.63,394.33 306.95,394.33 307.27,394.33 307.59,394.32 307.90,394.32 308.22,394.32 308.53,394.32 308.84,394.32 309.15,394.31 309.45,394.31 309.76,394.31 310.06,394.31 310.36,394.31 310.66,394.30 310.96,394.30 311.25,394.30 311.55,394.30 311.84,394.30 312.13,394.29 312.42,394.29 312.71,394.29 313.00,394.29 313.28,394.29 313.57,394.29 313.85,394.28 314.13,394.28 314.41,394.28"/><polyline points="18.50,414.78 57.21,408.85 79.86,406.21 95.92,404.73 108.39,403.78 118.57,403.12 127.18,402.64 134.64,402.27 141.22,401.98 147.10,401.74 152.42,401.54 157.28,401.38 161.75,401.24 165.89,401.12 169.75,401.01 173.35,400.92 176.74,400.84 179.93,400.76 182.95,400.70 185.81,400.64 188.54,400.59 191.14,400.54 193.62,400.49 196.00,400.45 198.28,400.41 200.47,400.38 202.57,400.34 204.60,400.31 206.56,400.29 208.46,400.26 210.29,400.24 212.06,400.21 213.78,400.19 215.45,400.17 217.07,400.15 218.64,400.13 220.17,400.11 221.66,400.10 223.11,400.08 224.52,400.07 225.90,400.05 227.25,400.04 228.56,400.03 229.85,400.02 231.10,400.00 232.33,399.99 233.53,399.98 234.71,399.97 235.86,399.96 236.99,399.95 238.09,399.94 239.18,399.93 240.24,399.93 241.29,399.92 242.31,399.91 243.32,399.90 244.31,399.89 245.28,399.89 246.23,399.88 247.17,399.87 248.09,399.87 249.00,399.86 249.90,399.86 250.77,399.85 251.64,399.84 252.49,399.84 253.33,399.83 254.16,399.83 254.98,399.82 255.78,399.82 256.57,399.81 257.35,399.81 258.12,399.80 258.88,399.80 259.63,399.80 260.37,399.79 261.10,399.79 261.82,399.78 262.53,399.78 263.24,399.78 263.93,399.77 264.62,399.77 265.29,399.77 265.96,399.76 266.62,399.76 267.28,399.76 267.92,399.75 268.56,399.75 269.19,399.75 269.82,399.74 270.43,399.74 271.04,399.74 271.65,399.74 272.24,399.73 272.84,399.73 273.42,399.73 274.00,399.73 274.57,399.72 275.14,399.72 275.70,399.72 276.26,399.72 276.81,399.71 277.35,399.71 277.89,399.71 278.42,399.71 278.95,399.70 279.48,399.70 280.00,399.70 280.51,399.70 281.02,399.70 281.53,399.69 282.03,399.69 282.53,399.69 283.02,399.69 283.51,399.69 283.99,399.69 284.47,399.68 284.94,399.68 285.42,399.68 285.88,399.68 286.35,399.68 286.81,399.68 287.26,399.67 287.71,399.67 288.16,399.67 288.61,399.67 289.05,399.67 289.49,399.67 289.92,399.67 290.35,399.66 290.78,399.66 291.21,399.66 291.63,399.66 292.05,399.66 292.46,399.66 292.87,399.66 293.28,399.65 293.69,399.65 294.09,399.65 294.49,399.65 294.89,399.65 295.28,399.65 295.68,399.65 296.07,399.65 296.45,399.65 296.84,399.64 297.22,399.64 297.60,399.64 297.97,399.64 298.35,399.64 298.72,399.64 299.09,399.64 299.45,399.64 299.82,399.64 300.18,399.63 300.54,399.63 300.89,399.63 301.25,399.63 301.60,399.63 301.95,399.63 302.30,399.63 302.64,399.63 302.99,399.63 303.33,399.63 303.67,399.63 304.01,399.62 304.34,399.62 304.67,399.62 305.01,399.62 305.34,399.62 305.66,399.62 305.99,399.62 306.31,399.62 306.63,399.62 306.95,399.62 307.27,399.62 307.59,399.62 307.90,399.62 308.22,399.61 308.53,399.61 308.84,399.61 309.15,399.61 309.45,399.61 309.76,399.61 310.06,399.61 310.36,399.61 310.66,399.61 310.96,399.61 311.25,399.61 311.55,399.61 311.84,399.61 312.13,399.61 312.42,399.60 312.71,399.60 313.00,399.60 313.28,399.60 313.57,399.60 313.85,399.60 314.13,399.60 314.41,399.60"/><polyline points="18.50,414.78 57.21,411.81 79.86,410.94 95.92,410.57 108.39,410.38 118.57,410.27 127.18,410.20 134.64,410.15 141.22,410.12 147.10,410.09 152.42,410.08 157.28,410.06 161.75,410.05 165.89,410.04 169.75,410.04 173.35,410.03 176.74,410.03 179.93,410.02 182.95,410.02 185.81,410.02 188.54,410.01 191.14,410.01 193.62,410.01 196.00,410.01 198.28,410.01 200.47,410.00 202.57,410.00 204.60,410.00 206.56,410.00 208.46,410.00 210.29,410.00 212.06,410.00 213.78,410.00 215.45,410.00 217.07,410.00 218.64,410.00 220.17,410.00 221.66,410.00 223.11,409.99 224.52,409.99 225.90,409.99 227.25,409.99 228.56,409.99 229.85,409.99 231.10,409.99 232.33,409.99 233.53,409.99 234.71,409.99 235.86,409.99 236.99,409.99 238.09,409.99 239.18,409.99 240.24,409.99 241.29,409.99 242.31,409.99 243.32,409.99 244.31,409.99 245.28,409.99 246.23,409.99 247.17,409.99 248.09,409.99 249.00,409.99 249.90,409.99 250.77,409.99 251.64,409.99 252.49,409.99 253.33,409.99 254.16,409.99 254.98,409.99 255.78,409.99 256.57,409.99 257.35,409.99 258.12,409.99 258.88,409.99 259.63,409.99 260.37,409.99 261.10,409.99 261.82,409.99 262.53,409.99 263.24,409.99 263.93,409.99 264.62,409.99 265.29,409.99 265.96,409.99 266.62,409.99 267.28,409.99 267.92,409.99 268.56,409.99 269.19,409.99 269.82,409.99 270.43,409.99 271.04,409.99 271.65,409.99 272.24,409.99 272.84,409.99 273.42,409.99 274.00,409.99 274.57,409.99 275.14,409.99 275.70,409.99 276.26,409.99 276.81,409.99 277.35,409.99 277.89,409.99 278.42,409.99 278.95,409.99 279.48,409.99 280.00,409.99 280.51,409.99 281.02,409.99 281.53,409.99 282.03,409.99 282.53,409.99 283.02,409.99 283.51,409.99 283.99,409.99 284.47,409.99 284.94,409.99 285.42,409.99 285.88,409.99 286.35,409.99 286.81,409.99 287.26,409.99 287.71,409.99 288.16,409.99 288.61,409.99 289.05,409.99 289.49,409.99 289.92,409.99 290.35,409.99 290.78,409.99 291.21,409.99 291.63,409.99 292.05,409.99 292.46,409.99 292.87,409.99 293.28,409.99 293.69,409.99 294.09,409.99 294.49,409.99 294.89,409.99 295.28,409.99 295.68,409.99 296.07,409.99 296.45,409.99 296.84,409.99 297.22,409.99 297.60,409.99 297.97,409.99 298.35,409.99 298.72,409.99 299.09,409.99 299.45,409.99 299.82,409.99 300.18,409.99 300.54,409.99 300.89,409.99 301.25,409.99 301.60,409.99 301.95,409.99 302.30,409.99 302.64,409.99 302.99,409.99 303.33,409.99 303.67,409.99 304.01,409.99 304.34,409.99 304.67,409.99 305.01,409.99 305.34,409.99 305.66,409.99 305.99,409.99 306.31,409.99 306.63,409.99 306.95,409.99 307.27,409.99 307.59,409.99 307.90,409.99 308.22,409.99 308.53,409.99 308.84,409.99 309.15,409.99 309.45,409.99 309.76,409.99 310.06,409.99 310.36,409.99 310.66,409.99 310.96,409.99 311.25,409.99 311.55,409.99 311.84,409.99 312.13,409.99 312.42,409.99 312.71,409.99 313.00,409.99 313.28,409.99 313.57,409.99 313.85,409.99 314.13,409.99 314.41,409.99"/><polyline points="18.50,414.78 57.21,413.30 79.86,413.00 95.92,412.91 108.39,412.87 118.57,412.86 127.18,412.85 134.64,412.84 141.22,412.84 147.10,412.83 152.42,412.83 157.28,412.83 161.75,412.83 165.89,412.83 169.75,412.83 173.35,412.83 176.74,412.83 179.93,412.83 182.95,412.83 185.81,412.83 188.54,412.83 191.14,412.83 193.62,412.83 196.00,412.83 198.28,412.83 200.47,412.83 202.57,412.83 204.60,412.83 206.56,412.83 208.46,412.83 210.29,412.83 212.06,412.83 213.78,412.83 215.45,412.83 217.07,412.83 218.64,412.83 220.17,412.83 221.66,412.83 223.11,412.83 224.52,412.83 225.90,412.83 227.25,412.83 228.56,412.83 229.85,412.83 231.10,412.83 232.33,412.83 233.53,412.83 234.71,412.83 235.86,412.83 236.99,412.83 238.09,412.83 239.18,412.83 240.24,412.83 241.29,412.83 242.31,412.83 243.32,412.83 244.31,412.83 245.28,412.83 246.23,412.83 247.17,412.83 248.09,412.83 249.00,412.83 249.90,412.83 250.77,412.83 251.64,412.83 252.49,412.83 253.33,412.83 254.16,412.83 254.98,412.83 255.78,412.83 256.57,412.83 257.35,412.83 258.12,412.83 258.88,412.83 259.63,412.83 260.37,412.83 261.10,412.83 261.82,412.83 262.53,412.83 263.24,412.83 263.93,412.83 264.62,412.83 265.29,412.83 265.96,412.83 266.62,412.83 267.28,412.83 267.92,412.83 268.56,412.83 269.19,412.83 269.82,412.83 270.43,412.83 271.04,412.83 271.65,412.83 272.24,412.83 272.84,412.83 273.42,412.83 274.00,412.83 274.57,412.83 275.14,412.83 275.70,412.83 276.26,412.83 276.81,412.83 277.35,412.83 277.89,412.83 278.42,412.83 278.95,412.83 279.48,412.83 280.00,412.83 280.51,412.83 281.02,412.83 281.53,412.83 282.03,412.83 282.53,412.83 283.02,412.83 283.51,412.83 283.99,412.83 284.47,412.83 284.94,412.83 285.42,412.83 285.88,412.83 286.35,412.83 286.81,412.83 287.26,412.83 287.71,412.83 288.16,412.83 288.61,412.83 289.05,412.83 289.49,412.83 289.92,412.83 290.35,412.83 290.78,412.83 291.21,412.83 291.63,412.83 292.05,412.83 292.46,412.83 292.87,412.83 293.28,412.83 293.69,412.83 294.09,412.83 294.49,412.83 294.89,412.83 295.28,412.83 295.68,412.83 296.07,412.83 296.45,412.83 296.84,412.83 297.22,412.83 297.60,412.83 297.97,412.83 298.35,412.83 298.72,412.83 299.09,412.83 299.45,412.83 299.82,412.83 300.18,412.83 300.54,412.83 300.89,412.83 301.25,412.83 301.60,412.83 301.95,412.83 302.30,412.83 302.64,412.83 302.99,412.83 303.33,412.83 303.67,412.83 304.01,412.83 304.34,412.83 304.67,412.83 305.01,412.83 305.34,412.83 305.66,412.83 305.99,412.83 306.31,412.83 306.63,412.83 306.95,412.83 307.27,412.83 307.59,412.83 307.90,412.83 308.22,412.83 308.53,412.83 308.84,412.83 309.15,412.83 309.45,412.83 309.76,412.83 310.06,412.83 310.36,412.83 310.66,412.83 310.96,412.83 311.25,412.83 311.55,412.83 311.84,412.83 312.13,412.83 312.42,412.83 312.71,412.83 313.00,412.83 313.28,412.83 313.57,412.83 313.85,412.83 314.13,412.83 314.41,412.83"/></g>
<polyline points="18.50,414.38 57.21,406.28 79.86,401.96 95.92,399.19 108.39,397.23 118.57,395.76 127.18,394.60 134.64,393.65 141.22,392.86 147.10,392.20 152.42,391.62 157.28,391.12 161.75,390.67 165.89,390.27 169.75,389.92 173.35,389.59 176.74,389.30 179.93,389.03 182.95,388.78 185.81,388.56 188.54,388.34 191.14,388.15 193.62,387.96 196.00,387.79 198.28,387.63 200.47,387.48 202.57,387.33 204.60,387.20 206.56,387.07 208.46,386.95 210.29,386.83 212.06,386.72 213.78,386.62 215.45,386.52 217.07,386.42 218.64,386.33 220.17,386.24 221.66,386.16 223.11,386.08 224.52,386.00 225.90,385.92 227.25,385.85 228.56,385.78 229.85,385.71 231.10,385.65 232.33,385.59 233.53,385.53 234.71,385.47 235.86,385.41 236.99,385.36 238.09,385.30 239.18,385.25 240.24,385.20 241.29,385.15 242.31,385.10 243.32,385.06 244.31,385.01 245.28,384.97 246.23,384.93 247.17,384.88 248.09,384.84 249.00,384.80 249.90,384.76 250.77,384.73 251.64,384.69 252.49,384.65 253.33,384.62 254.16,384.59 254.98,384.55 255.78,384.52 256.57,384.49 257.35,384.46 258.12,384.42 258.88,384.39 259.63,384.37 260.37,384.34 261.10,384.31 261.82,384.28 262.53,384.25 263.24,384.23 263.93,384.20 264.62,384.18 265.29,384.15 265.96,384.13 266.62,384.10 267.28,384.08 267.92,384.05 268.56,384.03 269.19,384.01 269.82,383.99 270.43,383.96 271.04,383.94 271.65,383.92 272.24,383.90 272.84,383.88 273.42,383.86 274.00,383.84 274.57,383.82 275.14,383.80 275.70,383.78 276.26,383.76 276.81,383.75 277.35,383.73 277.89,383.71 278.42,383.69 278.95,383.68 279.48,383.66 280.00,383.64 280.51,383.63 281.02,383.61 281.53,383.59 282.03,383.58 282.53,383.56 283.02,383.55 283.51,383.53 283.99,383.52 284.47,383.50 284.94,383.49 285.42,383.47 285.88,383.46 286.35,383.44 286.81,383.43 287.26,383.42 287.71,383.40 288.16,383.39 288.61,383.38 289.05,383.36 289.49,383.35 289.92,383.34 290.35,383.33 290.78,383.31 291.21,383.30 291.63,383.29 292.05,383.28 292.46,383.27 292.87,383.25 293.28,383.24 293.69,383.23 294.09,383.22 294.49,383.21 294.89,383.20 295.28,383.19 295.68,383.18 296.07,383.16 296.45,383.15 296.84,383.14 297.22,383.13 297.60,383.12 297.97,383.11 298.35,383.10 298.72,383.09 299.09,383.08 299.45,383.07 299.82,383.06 300.18,383.05 300.54,383.04 300.89,383.04 301.25,383.03 301.60,383.02 301.95,383.01 302.30,383.00 302.64,382.99 302.99,382.98 303.33,382.97 303.67,382.96 304.01,382.96 304.34,382.95 304.67,382.94 305.01,382.93 305.34,382.92 305.66,382.91 305.99,382.91 306.31,382.90 306.63,382.89 306.95,382.88 307.27,382.87 307.59,382.87 307.90,382.86 308.22,382.85 308.53,382.84 308.84,382.84 309.15,382.83 309.45,382.82 309.76,382.81 310.06,382.81 310.36,382.80 310.66,382.79 310.96,382.78 311.25,382.78 311.55,382.77 311.84,382.76 312.13,382.76 312.42,382.75 312.71,382.74 313.00,382.74 313.28,382.73 313.57,382.72 313.85,382.72 314.13,382.71 314.41,382.70" fill="none" stroke="#0a0af5" stroke-width="1.70" stroke-linejoin="round"/>
<circle cx="18.5" cy="414.4" r="1.1" fill="#000"/>
<circle cx="56.9" cy="407.9" r="1.1" fill="#000"/>
<circle cx="79.4" cy="401.8" r="1.1" fill="#000"/>
<circle cx="95.8" cy="400.0" r="1.1" fill="#000"/>
<rect x="18.5" y="11.5" width="147.0" height="189.0" fill="#fff" stroke="#eea450" stroke-width="1"/>
<g stroke="#ec9a3a" stroke-width="1" fill="none"><line x1="33.9" y1="31.0" x2="33.9" y2="188.0"/><line x1="31.4" y1="185.7" x2="148.0" y2="185.7"/><line x1="31.4" y1="37.6" x2="33.9" y2="37.6"/><line x1="31.4" y1="67.2" x2="33.9" y2="67.2"/><line x1="31.4" y1="96.8" x2="33.9" y2="96.8"/><line x1="31.4" y1="126.4" x2="33.9" y2="126.4"/><line x1="31.4" y1="156.0" x2="33.9" y2="156.0"/><line x1="31.4" y1="185.6" x2="33.9" y2="185.6"/><line x1="32.6" y1="185.7" x2="33.9" y2="185.7"/><line x1="32.6" y1="179.8" x2="33.9" y2="179.8"/><line x1="32.6" y1="173.9" x2="33.9" y2="173.9"/><line x1="32.6" y1="167.9" x2="33.9" y2="167.9"/><line x1="32.6" y1="162.0" x2="33.9" y2="162.0"/><line x1="32.6" y1="156.1" x2="33.9" y2="156.1"/><line x1="32.6" y1="150.2" x2="33.9" y2="150.2"/><line x1="32.6" y1="144.3" x2="33.9" y2="144.3"/><line x1="32.6" y1="138.3" x2="33.9" y2="138.3"/><line x1="32.6" y1="132.4" x2="33.9" y2="132.4"/><line x1="32.6" y1="126.5" x2="33.9" y2="126.5"/><line x1="32.6" y1="120.6" x2="33.9" y2="120.6"/><line x1="32.6" y1="114.7" x2="33.9" y2="114.7"/><line x1="32.6" y1="108.7" x2="33.9" y2="108.7"/><line x1="32.6" y1="102.8" x2="33.9" y2="102.8"/><line x1="32.6" y1="96.9" x2="33.9" y2="96.9"/><line x1="32.6" y1="91.0" x2="33.9" y2="91.0"/><line x1="32.6" y1="85.1" x2="33.9" y2="85.1"/><line x1="32.6" y1="79.1" x2="33.9" y2="79.1"/><line x1="32.6" y1="73.2" x2="33.9" y2="73.2"/><line x1="32.6" y1="67.3" x2="33.9" y2="67.3"/><line x1="32.6" y1="61.4" x2="33.9" y2="61.4"/><line x1="32.6" y1="55.5" x2="33.9" y2="55.5"/><line x1="32.6" y1="49.5" x2="33.9" y2="49.5"/><line x1="32.6" y1="43.6" x2="33.9" y2="43.6"/><line x1="32.6" y1="37.7" x2="33.9" y2="37.7"/><line x1="36.4" y1="185.7" x2="36.4" y2="187.0"/><line x1="39.9" y1="185.7" x2="39.9" y2="187.0"/><line x1="43.3" y1="185.7" x2="43.3" y2="187.0"/><line x1="46.8" y1="185.7" x2="46.8" y2="187.0"/><line x1="50.3" y1="185.7" x2="50.3" y2="187.0"/><line x1="54.4" y1="185.7" x2="54.4" y2="187.0"/><line x1="57.5" y1="185.7" x2="57.5" y2="187.0"/><line x1="61.4" y1="185.7" x2="61.4" y2="187.0"/><line x1="64.6" y1="185.7" x2="64.6" y2="187.0"/><line x1="68.4" y1="185.7" x2="68.4" y2="187.0"/><line x1="71.2" y1="185.7" x2="71.2" y2="187.0"/><line x1="75.0" y1="185.7" x2="75.0" y2="187.0"/><line x1="78.2" y1="185.7" x2="78.2" y2="187.0"/><line x1="81.8" y1="185.7" x2="81.8" y2="187.0"/><line x1="85.2" y1="185.7" x2="85.2" y2="187.0"/><line x1="88.9" y1="185.7" x2="88.9" y2="187.0"/><line x1="92.2" y1="185.7" x2="92.2" y2="187.0"/><line x1="95.6" y1="185.7" x2="95.6" y2="187.0"/><line x1="98.8" y1="185.7" x2="98.8" y2="187.0"/><line x1="102.5" y1="185.7" x2="102.5" y2="187.0"/><line x1="105.7" y1="185.7" x2="105.7" y2="187.0"/><line x1="109.5" y1="185.7" x2="109.5" y2="187.0"/><line x1="112.7" y1="185.7" x2="112.7" y2="187.0"/><line x1="116.6" y1="185.7" x2="116.6" y2="187.0"/><line x1="119.8" y1="185.7" x2="119.8" y2="187.0"/><line x1="123.6" y1="185.7" x2="123.6" y2="187.0"/><line x1="126.8" y1="185.7" x2="126.8" y2="187.0"/><line x1="129.9" y1="185.7" x2="129.9" y2="187.0"/><line x1="133.3" y1="185.7" x2="133.3" y2="187.0"/><line x1="136.8" y1="185.7" x2="136.8" y2="187.0"/><line x1="140.3" y1="185.7" x2="140.3" y2="187.0"/><line x1="144.0" y1="185.7" x2="144.0" y2="187.0"/><line x1="147.6" y1="185.7" x2="147.6" y2="187.0"/><line x1="33.9" y1="185.7" x2="33.9" y2="188.0"/><line x1="68.6" y1="185.7" x2="68.6" y2="188.0"/><line x1="102.8" y1="185.7" x2="102.8" y2="188.0"/><line x1="137.5" y1="185.7" x2="137.5" y2="188.0"/></g>
<g stroke-width="1"><line x1="50.3" y1="181.0" x2="50.3" y2="185.7" stroke="#ec9a3a"/><line x1="54.4" y1="174.9" x2="54.4" y2="185.7" stroke="#ec9a3a"/><line x1="57.5" y1="156.9" x2="57.5" y2="185.7" stroke="#ec9a3a"/><line x1="61.4" y1="139.4" x2="61.4" y2="185.7" stroke="#ec9a3a"/><line x1="64.6" y1="109.4" x2="64.6" y2="185.7" stroke="#ec9a3a"/><line x1="68.4" y1="103.2" x2="68.4" y2="185.7" stroke="#ec9a3a"/><line x1="71.2" y1="44.3" x2="71.2" y2="185.7" stroke="#ec9a3a"/><line x1="75.0" y1="32.9" x2="75.0" y2="185.7" stroke="#222"/><line x1="78.2" y1="55.9" x2="78.2" y2="185.7" stroke="#ec9a3a"/><line x1="81.8" y1="62.3" x2="81.8" y2="185.7" stroke="#ec9a3a"/><line x1="85.2" y1="92.0" x2="85.2" y2="185.7" stroke="#ec9a3a"/><line x1="88.9" y1="92.0" x2="88.9" y2="185.7" stroke="#ec9a3a"/><line x1="92.2" y1="115.9" x2="92.2" y2="185.7" stroke="#ec9a3a"/><line x1="95.6" y1="115.9" x2="95.6" y2="185.7" stroke="#ec9a3a"/><line x1="98.8" y1="139.3" x2="98.8" y2="185.7" stroke="#ec9a3a"/><line x1="102.5" y1="139.3" x2="102.5" y2="185.7" stroke="#ec9a3a"/><line x1="105.7" y1="181.0" x2="105.7" y2="185.7" stroke="#ec9a3a"/><line x1="109.5" y1="168.6" x2="109.5" y2="185.7" stroke="#ec9a3a"/><line x1="112.7" y1="163.2" x2="112.7" y2="185.7" stroke="#ec9a3a"/><line x1="116.6" y1="163.2" x2="116.6" y2="185.7" stroke="#ec9a3a"/><line x1="119.8" y1="168.8" x2="119.8" y2="185.7" stroke="#ec9a3a"/><line x1="123.6" y1="181.2" x2="123.6" y2="185.7" stroke="#ec9a3a"/><line x1="126.8" y1="175.0" x2="126.8" y2="185.7" stroke="#ec9a3a"/><line x1="129.9" y1="181.2" x2="129.9" y2="185.7" stroke="#ec9a3a"/><line x1="133.3" y1="181.2" x2="133.3" y2="185.7" stroke="#ec9a3a"/><line x1="136.8" y1="181.2" x2="136.8" y2="185.7" stroke="#ec9a3a"/><line x1="147.6" y1="169.0" x2="147.6" y2="185.7" stroke="#ec9a3a"/></g>
<g fill="#e48a26" stroke="#e48a26" stroke-width="0.30"><text transform="translate(20.55,39.70) scale(0.830,1)" font-size="10.30">25</text><text transform="translate(20.52,69.30) scale(0.830,1)" font-size="10.30">20</text><text transform="translate(20.55,98.90) scale(0.830,1)" font-size="10.30">15</text><text transform="translate(20.52,128.50) scale(0.830,1)" font-size="10.30">10</text><text transform="translate(25.30,158.10) scale(0.830,1)" font-size="10.30">5</text><text transform="translate(25.28,187.70) scale(0.830,1)" font-size="10.30">0</text><text transform="translate(29.81,31.60) scale(0.830,1)" font-size="10.30">N</text><text transform="translate(34.62,195.20) scale(0.830,1)" font-size="10.30">0</text><text transform="translate(68.41,195.20) scale(0.830,1)" font-size="10.30">1</text><text transform="translate(103.12,195.20) scale(0.830,1)" font-size="10.30">2</text><text transform="translate(138.85,195.20) scale(0.830,1)" font-size="10.30">3</text><text transform="translate(148.74,195.20) scale(0.830,1)" font-size="10.30">M</text></g>
<g fill="#111" stroke="#111" stroke-width="0.4"><text transform="translate(100.99,28.90) scale(0.795,1)" font-size="10.30">20141122-17:04</text><text transform="translate(101.19,39.00) scale(0.792,1)" font-size="10.30">20141125-23:14</text><text transform="translate(111.96,49.10) scale(0.791,1)" font-size="10.30">dt: 24</text><text transform="translate(110.84,59.20) scale(0.775,1)" font-size="10.30">Mmin: 1.2</text><text transform="translate(111.76,69.30) scale(0.809,1)" font-size="10.30">b : 0.85</text><text transform="translate(111.53,89.50) scale(0.801,1)" font-size="10.30">h : 1.55</text><text transform="translate(111.04,99.60) scale(0.782,1)" font-size="10.30">Mmax: 4.0</text></g>
<rect x="18.5" y="11.5" width="297.0" height="427.0" fill="none" stroke="#eea450" stroke-width="1"/>
<g fill="#e48a26" stroke="#e48a26" stroke-width="0.30"><text transform="translate(7.87,440.20) scale(0.830,1)" font-size="10.30">0</text><text transform="translate(7.55,416.48) scale(0.830,1)" font-size="10.30">1</text><text transform="translate(7.77,392.76) scale(0.830,1)" font-size="10.30">2</text><text transform="translate(7.87,369.04) scale(0.830,1)" font-size="10.30">3</text><text transform="translate(8.00,345.32) scale(0.830,1)" font-size="10.30">4</text><text transform="translate(7.86,321.60) scale(0.830,1)" font-size="10.30">5</text><text transform="translate(7.77,297.88) scale(0.830,1)" font-size="10.30">6</text><text transform="translate(7.76,274.16) scale(0.830,1)" font-size="10.30">7</text><text transform="translate(7.83,250.44) scale(0.830,1)" font-size="10.30">8</text><text transform="translate(7.80,226.72) scale(0.830,1)" font-size="10.30">9</text><text transform="translate(7.55,203.00) scale(0.830,1)" font-size="10.30">10</text><text transform="translate(7.55,179.28) scale(0.830,1)" font-size="10.30">11</text><text transform="translate(7.55,155.56) scale(0.830,1)" font-size="10.30">12</text><text transform="translate(7.55,131.84) scale(0.830,1)" font-size="10.30">13</text><text transform="translate(7.55,108.12) scale(0.830,1)" font-size="10.30">14</text><text transform="translate(7.55,84.40) scale(0.830,1)" font-size="10.30">15</text><text transform="translate(7.55,60.68) scale(0.830,1)" font-size="10.30">16</text><text transform="translate(7.55,36.96) scale(0.830,1)" font-size="10.30">17</text><text transform="translate(7.55,13.24) scale(0.830,1)" font-size="10.30">18</text><text transform="translate(16.81,450.20) scale(0.830,1)" font-size="10.30">1</text><text transform="translate(55.64,450.20) scale(0.830,1)" font-size="10.30">2</text><text transform="translate(78.31,450.20) scale(0.830,1)" font-size="10.30">3</text><text transform="translate(94.37,450.20) scale(0.830,1)" font-size="10.30">4</text><text transform="translate(106.82,450.20) scale(0.830,1)" font-size="10.30">5</text><text transform="translate(116.96,450.20) scale(0.830,1)" font-size="10.30">6</text><text transform="translate(125.60,450.20) scale(0.830,1)" font-size="10.30">7</text><text transform="translate(133.06,450.20) scale(0.830,1)" font-size="10.30">8</text><text transform="translate(139.64,450.20) scale(0.830,1)" font-size="10.30">9</text><text transform="translate(142.99,450.20) scale(0.830,1)" font-size="10.30">10</text><text transform="translate(181.81,450.20) scale(0.830,1)" font-size="10.30">20</text><text transform="translate(204.51,450.20) scale(0.830,1)" font-size="10.30">30</text><text transform="translate(220.64,450.20) scale(0.830,1)" font-size="10.30">40</text><text transform="translate(233.03,450.20) scale(0.830,1)" font-size="10.30">50</text><text transform="translate(251.77,450.20) scale(0.830,1)" font-size="10.30">70</text><text transform="translate(269.21,450.20) scale(0.830,1)" font-size="10.30">100</text><text transform="translate(308.03,450.20) scale(0.830,1)" font-size="10.30">200</text><text transform="translate(319.37,120.60) scale(0.830,1)" font-size="10.30">0.7</text><text transform="translate(319.37,205.60) scale(0.830,1)" font-size="10.30">0.8</text><text transform="translate(319.37,263.20) scale(0.830,1)" font-size="10.30">0.9</text><text transform="translate(319.05,303.00) scale(0.830,1)" font-size="10.30">1.0</text><text transform="translate(319.05,331.20) scale(0.830,1)" font-size="10.30">1.1</text><text transform="translate(319.05,351.20) scale(0.830,1)" font-size="10.30">1.2</text><text transform="translate(319.05,365.40) scale(0.830,1)" font-size="10.30">1.3</text><text transform="translate(319.05,376.50) scale(0.830,1)" font-size="10.30">1.4</text><text transform="translate(319.05,383.70) scale(0.830,1)" font-size="10.30">1.5</text><text transform="translate(319.05,390.20) scale(0.830,1)" font-size="10.30">1.6</text><text transform="translate(319.05,397.70) scale(0.830,1)" font-size="10.30">1.8</text><text transform="translate(319.27,404.00) scale(0.830,1)" font-size="10.30">2.0</text><text transform="translate(319.37,414.00) scale(0.830,1)" font-size="10.30">3.0</text><text transform="translate(319.50,423.90) scale(0.830,1)" font-size="10.30">4.0</text><text transform="translate(218.94,8.60) scale(0.830,1)" font-size="10.30">0.3</text><text transform="translate(240.22,8.60) scale(0.830,1)" font-size="10.30">0.4</text><text transform="translate(267.42,8.60) scale(0.830,1)" font-size="10.30">0.5</text><text transform="translate(303.44,8.60) scale(0.830,1)" font-size="10.30">0.6</text></g>
<g fill="#222"><text transform="translate(316.65,386.50) scale(0.830,1)" font-size="10.30">1.55</text></g>
<g fill="#000"><text transform="translate(0.39,476.40) scale(1.000,1)" font-size="18.50" font-weight="bold" style="font-family:'Liberation Serif'">(a)</text></g>
<g stroke="#e9923a" stroke-width="1.50" stroke-dasharray="2.3 2.3" stroke-dashoffset="-0.30" fill="none"><line x1="370.50" y1="415.22" x2="668.00" y2="415.22"/><line x1="370.50" y1="391.44" x2="668.00" y2="391.44"/><line x1="370.50" y1="367.66" x2="668.00" y2="367.66"/><line x1="370.50" y1="343.88" x2="668.00" y2="343.88"/><line x1="370.50" y1="320.10" x2="668.00" y2="320.10"/><line x1="370.50" y1="296.32" x2="668.00" y2="296.32"/><line x1="370.50" y1="272.54" x2="668.00" y2="272.54"/><line x1="370.50" y1="248.76" x2="668.00" y2="248.76"/><line x1="370.50" y1="224.98" x2="668.00" y2="224.98"/><line x1="370.50" y1="201.20" x2="668.00" y2="201.20"/><line x1="370.50" y1="177.42" x2="668.00" y2="177.42"/><line x1="370.50" y1="153.64" x2="668.00" y2="153.64"/><line x1="370.50" y1="129.86" x2="668.00" y2="129.86"/><line x1="370.50" y1="106.08" x2="668.00" y2="106.08"/><line x1="370.50" y1="82.30" x2="668.00" y2="82.30"/><line x1="370.50" y1="58.52" x2="668.00" y2="58.52"/><line x1="370.50" y1="34.74" x2="668.00" y2="34.74"/></g>
<g stroke="#e9923a" stroke-width="1.50" stroke-dasharray="2.3 2.29" stroke-dashoffset="0.00" fill="none"><line x1="408.65" y1="439.00" x2="408.65" y2="11.00"/><line x1="431.44" y1="439.00" x2="431.44" y2="11.00"/><line x1="447.61" y1="439.00" x2="447.61" y2="11.00"/><line x1="460.15" y1="439.00" x2="460.15" y2="11.00"/><line x1="470.39" y1="439.00" x2="470.39" y2="11.00"/><line x1="479.06" y1="439.00" x2="479.06" y2="11.00"/><line x1="486.56" y1="439.00" x2="486.56" y2="11.00"/><line x1="493.18" y1="439.00" x2="493.18" y2="11.00"/><line x1="499.10" y1="439.00" x2="499.10" y2="11.00"/><line x1="538.05" y1="439.00" x2="538.05" y2="11.00"/><line x1="560.84" y1="439.00" x2="560.84" y2="11.00"/><line x1="577.01" y1="439.00" x2="577.01" y2="11.00"/><line x1="589.55" y1="439.00" x2="589.55" y2="11.00"/><line x1="599.79" y1="439.00" x2="599.79" y2="11.00"/><line x1="608.46" y1="439.00" x2="608.46" y2="11.00"/><line x1="615.96" y1="439.00" x2="615.96" y2="11.00"/><line x1="622.58" y1="439.00" x2="622.58" y2="11.00"/><line x1="628.50" y1="439.00" x2="628.50" y2="11.00"/></g>
<g stroke="#e58a22" stroke-width="0.95" fill="none" stroke-linejoin="round"><polyline points="369.70,415.22 408.65,395.90 431.44,378.80 447.61,363.11 460.15,348.44 470.39,334.55 479.06,321.28 486.56,308.54 493.18,296.24 499.10,284.32 504.46,272.74 509.35,261.45 513.84,250.44 518.01,239.66 521.89,229.11 525.51,218.76 528.92,208.60 532.13,198.60 535.17,188.77 538.05,179.09 540.80,169.55 543.41,160.15 545.91,150.86 548.30,141.70 550.59,132.64 552.80,123.70 554.92,114.85 556.96,106.10 558.93,97.44 560.84,88.87 562.68,80.38 564.47,71.97 566.20,63.64 567.87,55.38 569.50,47.20 571.09,39.08 572.63,31.03 574.12,23.05 575.58,15.13 576.33,11.00"/><polyline points="369.70,415.22 408.65,397.20 431.44,381.87 447.61,368.22 460.15,355.72 470.39,344.11 479.06,333.19 486.56,322.84 493.18,312.97 499.10,303.50 504.46,294.39 509.35,285.59 513.84,277.06 518.01,268.79 521.89,260.74 525.51,252.89 528.92,245.24 532.13,237.75 535.17,230.43 538.05,223.26 540.80,216.22 543.41,209.31 545.91,202.53 548.30,195.86 550.59,189.30 552.80,182.84 554.92,176.47 556.96,170.20 558.93,164.02 560.84,157.92 562.68,151.90 564.47,145.95 566.20,140.08 567.87,134.28 569.50,128.54 571.09,122.87 572.63,117.26 574.12,111.71 575.58,106.22 577.01,100.78 578.39,95.40 579.75,90.06 581.07,84.78 582.36,79.55 583.63,74.36 584.86,69.22 586.07,64.12 587.25,59.07 588.41,54.05 589.55,49.08 590.66,44.15 591.75,39.25 592.82,34.39 593.87,29.57 594.90,24.78 595.92,20.03 596.91,15.31 597.81,11.00"/><polyline points="369.70,415.22 408.65,398.41 431.44,384.68 447.61,372.79 460.15,362.15 470.39,352.44 479.06,343.45 486.56,335.05 493.18,327.12 499.10,319.60 504.46,312.43 509.35,305.57 513.84,298.97 518.01,292.62 521.89,286.48 525.51,280.53 528.92,274.76 532.13,269.16 535.17,263.70 538.05,258.38 540.80,253.20 543.41,248.13 545.91,243.17 548.30,238.31 550.59,233.56 552.80,228.89 554.92,224.32 556.96,219.82 558.93,215.41 560.84,211.07 562.68,206.79 564.47,202.59 566.20,198.45 567.87,194.37 569.50,190.35 571.09,186.39 572.63,182.48 574.12,178.62 575.58,174.82 577.01,171.06 578.39,167.34 579.75,163.67 581.07,160.05 582.36,156.46 583.63,152.92 584.86,149.41 586.07,145.94 587.25,142.51 588.41,139.11 589.55,135.75 590.66,132.42 591.75,129.12 592.82,125.85 593.87,122.62 594.90,119.41 595.92,116.23 596.91,113.08 597.89,109.96 598.85,106.87 599.79,103.80 600.72,100.75 601.64,97.73 602.53,94.74 603.42,91.76 604.29,88.81 605.15,85.89 605.99,82.98 606.83,80.10 607.65,77.23 608.46,74.39 609.25,71.57 610.04,68.77 610.81,65.98 611.58,63.22 612.33,60.47 613.08,57.75 613.81,55.04 614.54,52.34 615.25,49.67 615.96,47.01 616.66,44.37 617.35,41.74 618.03,39.13 618.70,36.54 619.37,33.96 620.02,31.39 620.67,28.84 621.32,26.31 621.95,23.79 622.58,21.28 623.20,18.79 623.81,16.31 624.42,13.84 625.02,11.39 625.12,11.00"/><polyline points="369.70,415.22 408.65,399.53 431.44,387.23 447.61,376.88 460.15,367.83 470.39,359.71 479.06,352.31 486.56,345.48 493.18,339.12 499.10,333.15 504.46,327.50 509.35,322.15 513.84,317.05 518.01,312.17 521.89,307.48 525.51,302.98 528.92,298.63 532.13,294.43 535.17,290.37 538.05,286.43 540.80,282.60 543.41,278.88 545.91,275.26 548.30,271.72 550.59,268.28 552.80,264.91 554.92,261.62 556.96,258.40 558.93,255.24 560.84,252.15 562.68,249.13 564.47,246.15 566.20,243.23 567.87,240.37 569.50,237.55 571.09,234.78 572.63,232.06 574.12,229.38 575.58,226.74 577.01,224.14 578.39,221.57 579.75,219.05 581.07,216.56 582.36,214.10 583.63,211.68 584.86,209.29 586.07,206.93 587.25,204.60 588.41,202.30 589.55,200.02 590.66,197.78 591.75,195.56 592.82,193.36 593.87,191.19 594.90,189.04 595.92,186.91 596.91,184.81 597.89,182.73 598.85,180.67 599.79,178.63 600.72,176.62 601.64,174.62 602.53,172.64 603.42,170.68 604.29,168.73 605.15,166.81 605.99,164.90 606.83,163.01 607.65,161.13 608.46,159.28 609.25,157.43 610.04,155.61 610.81,153.79 611.58,152.00 612.33,150.21 613.08,148.44 613.81,146.69 614.54,144.95 615.25,143.22 615.96,141.50 616.66,139.80 617.35,138.11 618.03,136.43 618.70,134.77 619.37,133.11 620.02,131.47 620.67,129.84 621.32,128.22 621.95,126.61 622.58,125.01 623.20,123.42 623.81,121.85 624.42,120.28 625.02,118.72 625.62,117.18 626.21,115.64 626.79,114.11 627.36,112.59 627.94,111.08 628.50,109.58 629.06,108.09 629.61,106.61 630.16,105.13 630.70,103.67 631.24,102.21 631.77,100.76 632.30,99.32 632.83,97.89 633.34,96.46 633.86,95.05 634.36,93.64 634.87,92.23 635.37,90.84 635.86,89.45 636.35,88.07 636.84,86.70 637.32,85.34 637.80,83.98 638.28,82.63 638.75,81.28 639.21,79.94 639.67,78.61 640.13,77.29 640.59,75.97 641.04,74.65 641.49,73.35 641.93,72.05 642.37,70.75 642.81,69.47 643.24,68.18 643.67,66.91 644.10,65.64 644.53,64.37 644.95,63.11 645.37,61.86 645.78,60.61 646.19,59.37 646.60,58.14 647.01,56.90 647.41,55.68 647.81,54.46 648.21,53.24 648.60,52.03 648.99,50.82 649.38,49.62 649.77,48.43 650.15,47.24 650.53,46.05 650.91,44.87 651.29,43.69 651.66,42.52 652.03,41.36 652.40,40.19 652.77,39.04 653.13,37.88 653.49,36.73 653.85,35.59 654.21,34.45 654.56,33.31 654.91,32.18 655.26,31.05 655.61,29.93 655.96,28.81 656.30,27.69 656.64,26.58 656.98,25.48 657.32,24.37 657.66,23.27 657.99,22.18 658.32,21.09 658.65,20.00 658.98,18.92 659.30,17.84 659.63,16.76 659.95,15.69 660.27,14.62 660.59,13.55 660.90,12.49 661.22,11.43 661.35,11.00"/><polyline points="369.70,415.22 408.65,400.58 431.44,389.56 447.61,380.55 460.15,372.84 470.39,366.06 479.06,359.97 486.56,354.42 493.18,349.31 499.10,344.57 504.46,340.13 509.35,335.95 513.84,332.00 518.01,328.26 521.89,324.68 525.51,321.27 528.92,318.00 532.13,314.85 535.17,311.82 538.05,308.90 540.80,306.08 543.41,303.35 545.91,300.70 548.30,298.13 550.59,295.63 552.80,293.20 554.92,290.83 556.96,288.52 558.93,286.27 560.84,284.07 562.68,281.92 564.47,279.82 566.20,277.77 567.87,275.75 569.50,273.78 571.09,271.84 572.63,269.94 574.12,268.08 575.58,266.25 577.01,264.45 578.39,262.68 579.75,260.95 581.07,259.24 582.36,257.56 583.63,255.90 584.86,254.27 586.07,252.66 587.25,251.08 588.41,249.52 589.55,247.98 590.66,246.47 591.75,244.97 592.82,243.49 593.87,242.04 594.90,240.60 595.92,239.18 596.91,237.77 597.89,236.39 598.85,235.02 599.79,233.66 600.72,232.33 601.64,231.00 602.53,229.70 603.42,228.40 604.29,227.12 605.15,225.86 605.99,224.60 606.83,223.36 607.65,222.13 608.46,220.92 609.25,219.72 610.04,218.53 610.81,217.35 611.58,216.18 612.33,215.02 613.08,213.87 613.81,212.73 614.54,211.61 615.25,210.49 615.96,209.38 616.66,208.29 617.35,207.20 618.03,206.12 618.70,205.05 619.37,203.99 620.02,202.94 620.67,201.89 621.32,200.86 621.95,199.83 622.58,198.81 623.20,197.80 623.81,196.80 624.42,195.80 625.02,194.81 625.62,193.83 626.21,192.86 626.79,191.89 627.36,190.93 627.94,189.98 628.50,189.03 629.06,188.09 629.61,187.16 630.16,186.23 630.70,185.31 631.24,184.39 631.77,183.49 632.30,182.58 632.83,181.69 633.34,180.79 633.86,179.91 634.36,179.03 634.87,178.15 635.37,177.28 635.86,176.42 636.35,175.56 636.84,174.71 637.32,173.86 637.80,173.02 638.28,172.18 638.75,171.35 639.21,170.52 639.67,169.69 640.13,168.88 640.59,168.06 641.04,167.25 641.49,166.45 641.93,165.65 642.37,164.85 642.81,164.06 643.24,163.27 643.67,162.48 644.10,161.71 644.53,160.93 644.95,160.16 645.37,159.39 645.78,158.63 646.19,157.87 646.60,157.11 647.01,156.36 647.41,155.61 647.81,154.87 648.21,154.13 648.60,153.39 648.99,152.66 649.38,151.93 649.77,151.20 650.15,150.48 650.53,149.76 650.91,149.04 651.29,148.33 651.66,147.62 652.03,146.91 652.40,146.21 652.77,145.51 653.13,144.82 653.49,144.12 653.85,143.43 654.21,142.74 654.56,142.06 654.91,141.38 655.26,140.70 655.61,140.02 655.96,139.35 656.30,138.68 656.64,138.02 656.98,137.35 657.32,136.69 657.66,136.03 657.99,135.38 658.32,134.72 658.65,134.07 658.98,133.43 659.30,132.78 659.63,132.14 659.95,131.50 660.27,130.86 660.59,130.23 660.90,129.59 661.22,128.96 661.53,128.34 661.84,127.71 662.15,127.09 662.46,126.47 662.77,125.85 663.07,125.24 663.37,124.62 663.68,124.01 663.98,123.40 664.27,122.80 664.57,122.19 664.87,121.59 665.16,120.99 665.45,120.39 665.74,119.80 666.03,119.21 666.32,118.61 666.60,118.03 666.89,117.44 667.17,116.85 667.45,116.27"/><polyline points="369.70,415.22 408.65,401.56 431.44,391.69 447.61,383.84 460.15,377.28 470.39,371.61 479.06,366.60 486.56,362.09 493.18,357.99 499.10,354.22 504.46,350.73 509.35,347.47 513.84,344.42 518.01,341.54 521.89,338.81 525.51,336.22 528.92,333.76 532.13,331.40 535.17,329.15 538.05,326.98 540.80,324.90 543.41,322.90 545.91,320.96 548.30,319.09 550.59,317.28 552.80,315.52 554.92,313.82 556.96,312.17 558.93,310.56 560.84,309.00 562.68,307.47 564.47,305.98 566.20,304.53 567.87,303.12 569.50,301.74 571.09,300.38 572.63,299.06 574.12,297.76 575.58,296.50 577.01,295.25 578.39,294.03 579.75,292.84 581.07,291.66 582.36,290.51 583.63,289.38 584.86,288.27 586.07,287.18 587.25,286.10 588.41,285.04 589.55,284.00 590.66,282.98 591.75,281.97 592.82,280.98 593.87,280.00 594.90,279.04 595.92,278.09 596.91,277.15 597.89,276.23 598.85,275.32 599.79,274.42 600.72,273.53 601.64,272.66 602.53,271.79 603.42,270.94 604.29,270.10 605.15,269.26 605.99,268.44 606.83,267.63 607.65,266.82 608.46,266.03 609.25,265.24 610.04,264.47 610.81,263.70 611.58,262.94 612.33,262.19 613.08,261.44 613.81,260.70 614.54,259.98 615.25,259.25 615.96,258.54 616.66,257.83 617.35,257.13 618.03,256.44 618.70,255.75 619.37,255.07 620.02,254.40 620.67,253.73 621.32,253.07 621.95,252.41 622.58,251.76 623.20,251.12 623.81,250.48 624.42,249.85 625.02,249.22 625.62,248.60 626.21,247.98 626.79,247.37 627.36,246.76 627.94,246.16 628.50,245.56 629.06,244.97 629.61,244.38 630.16,243.80 630.70,243.22 631.24,242.65 631.77,242.08 632.30,241.51 632.83,240.95 633.34,240.39 633.86,239.84 634.36,239.29 634.87,238.74 635.37,238.20 635.86,237.66 636.35,237.13 636.84,236.60 637.32,236.07 637.80,235.55 638.28,235.03 638.75,234.51 639.21,234.00 639.67,233.49 640.13,232.98 640.59,232.48 641.04,231.98 641.49,231.48 641.93,230.99 642.37,230.50 642.81,230.01 643.24,229.53 643.67,229.05 644.10,228.57 644.53,228.09 644.95,227.62 645.37,227.15 645.78,226.68 646.19,226.22 646.60,225.76 647.01,225.30 647.41,224.84 647.81,224.39 648.21,223.94 648.60,223.49 648.99,223.04 649.38,222.60 649.77,222.16 650.15,221.72 650.53,221.28 650.91,220.85 651.29,220.42 651.66,219.99 652.03,219.56 652.40,219.14 652.77,218.71 653.13,218.29 653.49,217.87 653.85,217.46 654.21,217.04 654.56,216.63 654.91,216.22 655.26,215.81 655.61,215.41 655.96,215.00 656.30,214.60 656.64,214.20 656.98,213.80 657.32,213.41 657.66,213.01 657.99,212.62 658.32,212.23 658.65,211.84 658.98,211.45 659.30,211.07 659.63,210.68 659.95,210.30 660.27,209.92 660.59,209.54 660.90,209.17 661.22,208.79 661.53,208.42 661.84,208.05 662.15,207.68 662.46,207.31 662.77,206.94 663.07,206.58 663.37,206.21 663.68,205.85 663.98,205.49 664.27,205.13 664.57,204.77 664.87,204.42 665.16,204.06 665.45,203.71 665.74,203.36 666.03,203.01 666.32,202.66 666.60,202.31 666.89,201.97 667.17,201.62 667.45,201.28"/><polyline points="369.70,415.22 408.65,402.48 431.44,393.63 447.61,386.80 460.15,381.21 470.39,376.47 479.06,372.35 486.56,368.69 493.18,365.39 499.10,362.40 504.46,359.65 509.35,357.11 513.84,354.75 518.01,352.54 521.89,350.46 525.51,348.50 528.92,346.64 532.13,344.88 535.17,343.20 538.05,341.59 540.80,340.06 543.41,338.58 545.91,337.17 548.30,335.81 550.59,334.50 552.80,333.23 554.92,332.00 556.96,330.82 558.93,329.67 560.84,328.56 562.68,327.48 564.47,326.43 566.20,325.40 567.87,324.41 569.50,323.44 571.09,322.49 572.63,321.57 574.12,320.67 575.58,319.79 577.01,318.93 578.39,318.09 579.75,317.27 581.07,316.46 582.36,315.67 583.63,314.90 584.86,314.14 586.07,313.40 587.25,312.67 588.41,311.95 589.55,311.25 590.66,310.56 591.75,309.88 592.82,309.21 593.87,308.56 594.90,307.91 595.92,307.27 596.91,306.65 597.89,306.03 598.85,305.43 599.79,304.83 600.72,304.24 601.64,303.66 602.53,303.09 603.42,302.53 604.29,301.97 605.15,301.43 605.99,300.89 606.83,300.35 607.65,299.83 608.46,299.31 609.25,298.79 610.04,298.29 610.81,297.79 611.58,297.29 612.33,296.80 613.08,296.32 613.81,295.85 614.54,295.37 615.25,294.91 615.96,294.45 616.66,293.99 617.35,293.54 618.03,293.10 618.70,292.65 619.37,292.22 620.02,291.79 620.67,291.36 621.32,290.94 621.95,290.52 622.58,290.10 623.20,289.69 623.81,289.29 624.42,288.88 625.02,288.49 625.62,288.09 626.21,287.70 626.79,287.31 627.36,286.93 627.94,286.55 628.50,286.17 629.06,285.80 629.61,285.43 630.16,285.06 630.70,284.70 631.24,284.34 631.77,283.98 632.30,283.62 632.83,283.27 633.34,282.92 633.86,282.58 634.36,282.24 634.87,281.90 635.37,281.56 635.86,281.22 636.35,280.89 636.84,280.56 637.32,280.23 637.80,279.91 638.28,279.59 638.75,279.27 639.21,278.95 639.67,278.63 640.13,278.32 640.59,278.01 641.04,277.70 641.49,277.40 641.93,277.09 642.37,276.79 642.81,276.49 643.24,276.19 643.67,275.90 644.10,275.60 644.53,275.31 644.95,275.02 645.37,274.73 645.78,274.45 646.19,274.17 646.60,273.88 647.01,273.60 647.41,273.32 647.81,273.05 648.21,272.77 648.60,272.50 648.99,272.23 649.38,271.96 649.77,271.69 650.15,271.42 650.53,271.16 650.91,270.90 651.29,270.63 651.66,270.37 652.03,270.12 652.40,269.86 652.77,269.60 653.13,269.35 653.49,269.10 653.85,268.85 654.21,268.60 654.56,268.35 654.91,268.10 655.26,267.85 655.61,267.61 655.96,267.37 656.30,267.13 656.64,266.89 656.98,266.65 657.32,266.41 657.66,266.17 657.99,265.94 658.32,265.70 658.65,265.47 658.98,265.24 659.30,265.01 659.63,264.78 659.95,264.55 660.27,264.33 660.59,264.10 660.90,263.88 661.22,263.65 661.53,263.43 661.84,263.21 662.15,262.99 662.46,262.77 662.77,262.56 663.07,262.34 663.37,262.12 663.68,261.91 663.98,261.69 664.27,261.48 664.57,261.27 664.87,261.06 665.16,260.85 665.45,260.64 665.74,260.43 666.03,260.23 666.32,260.02 666.60,259.82 666.89,259.61 667.17,259.41 667.45,259.21"/><polyline points="369.70,415.22 408.65,403.33 431.44,395.40 447.61,389.46 460.15,384.70 470.39,380.74 479.06,377.34 486.56,374.37 493.18,371.73 499.10,369.35 504.46,367.19 509.35,365.21 513.84,363.38 518.01,361.68 521.89,360.09 525.51,358.61 528.92,357.21 532.13,355.89 535.17,354.63 538.05,353.45 540.80,352.31 543.41,351.23 545.91,350.20 548.30,349.21 550.59,348.26 552.80,347.34 554.92,346.46 556.96,345.61 558.93,344.79 560.84,344.00 562.68,343.23 564.47,342.49 566.20,341.77 567.87,341.07 569.50,340.39 571.09,339.73 572.63,339.09 574.12,338.46 575.58,337.85 577.01,337.26 578.39,336.68 579.75,336.11 581.07,335.56 582.36,335.02 583.63,334.49 584.86,333.97 586.07,333.47 587.25,332.97 588.41,332.48 589.55,332.01 590.66,331.54 591.75,331.09 592.82,330.64 593.87,330.20 594.90,329.76 595.92,329.34 596.91,328.92 597.89,328.51 598.85,328.11 599.79,327.71 600.72,327.32 601.64,326.94 602.53,326.56 603.42,326.19 604.29,325.82 605.15,325.46 605.99,325.11 606.83,324.76 607.65,324.41 608.46,324.08 609.25,323.74 610.04,323.41 610.81,323.08 611.58,322.76 612.33,322.45 613.08,322.13 613.81,321.82 614.54,321.52 615.25,321.22 615.96,320.92 616.66,320.63 617.35,320.34 618.03,320.05 618.70,319.77 619.37,319.49 620.02,319.21 620.67,318.94 621.32,318.67 621.95,318.40 622.58,318.14 623.20,317.88 623.81,317.62 624.42,317.36 625.02,317.11 625.62,316.86 626.21,316.61 626.79,316.36 627.36,316.12 627.94,315.88 628.50,315.64 629.06,315.41 629.61,315.18 630.16,314.94 630.70,314.72 631.24,314.49 631.77,314.27 632.30,314.04 632.83,313.82 633.34,313.60 633.86,313.39 634.36,313.17 634.87,312.96 635.37,312.75 635.86,312.54 636.35,312.34 636.84,312.13 637.32,311.93 637.80,311.73 638.28,311.53 638.75,311.33 639.21,311.13 639.67,310.94 640.13,310.74 640.59,310.55 641.04,310.36 641.49,310.17 641.93,309.99 642.37,309.80 642.81,309.62 643.24,309.43 643.67,309.25 644.10,309.07 644.53,308.89 644.95,308.71 645.37,308.54 645.78,308.36 646.19,308.19 646.60,308.02 647.01,307.85 647.41,307.68 647.81,307.51 648.21,307.34 648.60,307.17 648.99,307.01 649.38,306.85 649.77,306.68 650.15,306.52 650.53,306.36 650.91,306.20 651.29,306.04 651.66,305.88 652.03,305.73 652.40,305.57 652.77,305.42 653.13,305.26 653.49,305.11 653.85,304.96 654.21,304.81 654.56,304.66 654.91,304.51 655.26,304.36 655.61,304.22 655.96,304.07 656.30,303.93 656.64,303.78 656.98,303.64 657.32,303.50 657.66,303.36 657.99,303.21 658.32,303.07 658.65,302.94 658.98,302.80 659.30,302.66 659.63,302.52 659.95,302.39 660.27,302.25 660.59,302.12 660.90,301.98 661.22,301.85 661.53,301.72 661.84,301.59 662.15,301.46 662.46,301.33 662.77,301.20 663.07,301.07 663.37,300.94 663.68,300.81 663.98,300.69 664.27,300.56 664.57,300.44 664.87,300.31 665.16,300.19 665.45,300.07 665.74,299.94 666.03,299.82 666.32,299.70 666.60,299.58 666.89,299.46 667.17,299.34 667.45,299.22"/><polyline points="369.70,415.22 408.65,404.13 431.44,397.02 447.61,391.85 460.15,387.80 470.39,384.49 479.06,381.69 486.56,379.28 493.18,377.15 499.10,375.27 504.46,373.57 509.35,372.02 513.84,370.60 518.01,369.30 521.89,368.09 525.51,366.96 528.92,365.91 532.13,364.92 535.17,363.99 538.05,363.11 540.80,362.27 543.41,361.48 545.91,360.72 548.30,360.00 550.59,359.31 552.80,358.65 554.92,358.02 556.96,357.41 558.93,356.82 560.84,356.26 562.68,355.72 564.47,355.19 566.20,354.68 567.87,354.19 569.50,353.71 571.09,353.25 572.63,352.81 574.12,352.37 575.58,351.95 577.01,351.54 578.39,351.14 579.75,350.75 581.07,350.37 582.36,350.00 583.63,349.64 584.86,349.28 586.07,348.94 587.25,348.60 588.41,348.27 589.55,347.95 590.66,347.64 591.75,347.33 592.82,347.03 593.87,346.73 594.90,346.44 595.92,346.16 596.91,345.88 597.89,345.61 598.85,345.34 599.79,345.08 600.72,344.82 601.64,344.56 602.53,344.31 603.42,344.07 604.29,343.83 605.15,343.59 605.99,343.36 606.83,343.13 607.65,342.90 608.46,342.68 609.25,342.46 610.04,342.25 610.81,342.03 611.58,341.83 612.33,341.62 613.08,341.42 613.81,341.22 614.54,341.02 615.25,340.83 615.96,340.63 616.66,340.44 617.35,340.26 618.03,340.07 618.70,339.89 619.37,339.71 620.02,339.54 620.67,339.36 621.32,339.19 621.95,339.02 622.58,338.85 623.20,338.68 623.81,338.52 624.42,338.36 625.02,338.19 625.62,338.04 626.21,337.88 626.79,337.72 627.36,337.57 627.94,337.42 628.50,337.27 629.06,337.12 629.61,336.97 630.16,336.83 630.70,336.68 631.24,336.54 631.77,336.40 632.30,336.26 632.83,336.12 633.34,335.99 633.86,335.85 634.36,335.72 634.87,335.59 635.37,335.46 635.86,335.33 636.35,335.20 636.84,335.07 637.32,334.94 637.80,334.82 638.28,334.69 638.75,334.57 639.21,334.45 639.67,334.33 640.13,334.21 640.59,334.09 641.04,333.97 641.49,333.86 641.93,333.74 642.37,333.63 642.81,333.51 643.24,333.40 643.67,333.29 644.10,333.18 644.53,333.07 644.95,332.96 645.37,332.85 645.78,332.75 646.19,332.64 646.60,332.54 647.01,332.43 647.41,332.33 647.81,332.22 648.21,332.12 648.60,332.02 648.99,331.92 649.38,331.82 649.77,331.72 650.15,331.62 650.53,331.53 650.91,331.43 651.29,331.33 651.66,331.24 652.03,331.14 652.40,331.05 652.77,330.96 653.13,330.86 653.49,330.77 653.85,330.68 654.21,330.59 654.56,330.50 654.91,330.41 655.26,330.32 655.61,330.23 655.96,330.15 656.30,330.06 656.64,329.97 656.98,329.89 657.32,329.80 657.66,329.72 657.99,329.63 658.32,329.55 658.65,329.46 658.98,329.38 659.30,329.30 659.63,329.22 659.95,329.14 660.27,329.06 660.59,328.98 660.90,328.90 661.22,328.82 661.53,328.74 661.84,328.66 662.15,328.58 662.46,328.51 662.77,328.43 663.07,328.35 663.37,328.28 663.68,328.20 663.98,328.13 664.27,328.05 664.57,327.98 664.87,327.90 665.16,327.83 665.45,327.76 665.74,327.69 666.03,327.61 666.32,327.54 666.60,327.47 666.89,327.40 667.17,327.33 667.45,327.26"/><polyline points="369.70,415.22 408.65,404.87 431.44,398.51 447.61,394.00 460.15,390.55 470.39,387.78 479.06,385.48 486.56,383.52 493.18,381.82 499.10,380.32 504.46,378.98 509.35,377.77 513.84,376.68 518.01,375.68 521.89,374.75 525.51,373.90 528.92,373.11 532.13,372.37 535.17,371.67 538.05,371.02 540.80,370.40 543.41,369.82 545.91,369.27 548.30,368.74 550.59,368.24 552.80,367.77 554.92,367.31 556.96,366.87 558.93,366.46 560.84,366.06 562.68,365.67 564.47,365.30 566.20,364.94 567.87,364.59 569.50,364.26 571.09,363.94 572.63,363.63 574.12,363.32 575.58,363.03 577.01,362.75 578.39,362.47 579.75,362.20 581.07,361.94 582.36,361.69 583.63,361.44 584.86,361.20 586.07,360.97 587.25,360.74 588.41,360.51 589.55,360.30 590.66,360.09 591.75,359.88 592.82,359.67 593.87,359.48 594.90,359.28 595.92,359.09 596.91,358.91 597.89,358.72 598.85,358.55 599.79,358.37 600.72,358.20 601.64,358.03 602.53,357.87 603.42,357.71 604.29,357.55 605.15,357.39 605.99,357.24 606.83,357.09 607.65,356.94 608.46,356.79 609.25,356.65 610.04,356.51 610.81,356.37 611.58,356.24 612.33,356.10 613.08,355.97 613.81,355.84 614.54,355.72 615.25,355.59 615.96,355.47 616.66,355.34 617.35,355.22 618.03,355.11 618.70,354.99 619.37,354.87 620.02,354.76 620.67,354.65 621.32,354.54 621.95,354.43 622.58,354.32 623.20,354.22 623.81,354.11 624.42,354.01 625.02,353.91 625.62,353.80 626.21,353.71 626.79,353.61 627.36,353.51 627.94,353.41 628.50,353.32 629.06,353.23 629.61,353.13 630.16,353.04 630.70,352.95 631.24,352.86 631.77,352.77 632.30,352.69 632.83,352.60 633.34,352.52 633.86,352.43 634.36,352.35 634.87,352.27 635.37,352.18 635.86,352.10 636.35,352.02 636.84,351.94 637.32,351.86 637.80,351.79 638.28,351.71 638.75,351.63 639.21,351.56 639.67,351.48 640.13,351.41 640.59,351.34 641.04,351.26 641.49,351.19 641.93,351.12 642.37,351.05 642.81,350.98 643.24,350.91 643.67,350.84 644.10,350.78 644.53,350.71 644.95,350.64 645.37,350.58 645.78,350.51 646.19,350.45 646.60,350.38 647.01,350.32 647.41,350.25 647.81,350.19 648.21,350.13 648.60,350.07 648.99,350.01 649.38,349.95 649.77,349.89 650.15,349.83 650.53,349.77 650.91,349.71 651.29,349.65 651.66,349.59 652.03,349.54 652.40,349.48 652.77,349.42 653.13,349.37 653.49,349.31 653.85,349.26 654.21,349.20 654.56,349.15 654.91,349.09 655.26,349.04 655.61,348.99 655.96,348.93 656.30,348.88 656.64,348.83 656.98,348.78 657.32,348.73 657.66,348.68 657.99,348.63 658.32,348.58 658.65,348.53 658.98,348.48 659.30,348.43 659.63,348.38 659.95,348.33 660.27,348.28 660.59,348.24 660.90,348.19 661.22,348.14 661.53,348.09 661.84,348.05 662.15,348.00 662.46,347.96 662.77,347.91 663.07,347.86 663.37,347.82 663.68,347.77 663.98,347.73 664.27,347.69 664.57,347.64 664.87,347.60 665.16,347.56 665.45,347.51 665.74,347.47 666.03,347.43 666.32,347.39 666.60,347.34 666.89,347.30 667.17,347.26 667.45,347.22"/><polyline points="369.70,415.22 408.65,405.56 431.44,399.86 447.61,395.94 460.15,393.00 470.39,390.69 479.06,388.79 486.56,387.20 493.18,385.83 499.10,384.64 504.46,383.59 509.35,382.65 513.84,381.80 518.01,381.03 521.89,380.33 525.51,379.68 528.92,379.08 532.13,378.53 535.17,378.01 538.05,377.53 540.80,377.07 543.41,376.65 545.91,376.24 548.30,375.86 550.59,375.50 552.80,375.15 554.92,374.83 556.96,374.51 558.93,374.22 560.84,373.93 562.68,373.66 564.47,373.39 566.20,373.14 567.87,372.90 569.50,372.66 571.09,372.44 572.63,372.22 574.12,372.01 575.58,371.81 577.01,371.61 578.39,371.42 579.75,371.24 581.07,371.06 582.36,370.88 583.63,370.71 584.86,370.55 586.07,370.39 587.25,370.24 588.41,370.09 589.55,369.94 590.66,369.79 591.75,369.66 592.82,369.52 593.87,369.39 594.90,369.26 595.92,369.13 596.91,369.00 597.89,368.88 598.85,368.76 599.79,368.65 600.72,368.54 601.64,368.42 602.53,368.32 603.42,368.21 604.29,368.10 605.15,368.00 605.99,367.90 606.83,367.80 607.65,367.71 608.46,367.61 609.25,367.52 610.04,367.43 610.81,367.34 611.58,367.25 612.33,367.16 613.08,367.08 613.81,366.99 614.54,366.91 615.25,366.83 615.96,366.75 616.66,366.67 617.35,366.59 618.03,366.52 618.70,366.44 619.37,366.37 620.02,366.29 620.67,366.22 621.32,366.15 621.95,366.08 622.58,366.01 623.20,365.95 623.81,365.88 624.42,365.81 625.02,365.75 625.62,365.69 626.21,365.62 626.79,365.56 627.36,365.50 627.94,365.44 628.50,365.38 629.06,365.32 629.61,365.26 630.16,365.20 630.70,365.15 631.24,365.09 631.77,365.04 632.30,364.98 632.83,364.93 633.34,364.87 633.86,364.82 634.36,364.77 634.87,364.72 635.37,364.67 635.86,364.62 636.35,364.57 636.84,364.52 637.32,364.47 637.80,364.42 638.28,364.37 638.75,364.33 639.21,364.28 639.67,364.23 640.13,364.19 640.59,364.14 641.04,364.10 641.49,364.05 641.93,364.01 642.37,363.97 642.81,363.92 643.24,363.88 643.67,363.84 644.10,363.80 644.53,363.76 644.95,363.72 645.37,363.67 645.78,363.63 646.19,363.59 646.60,363.56 647.01,363.52 647.41,363.48 647.81,363.44 648.21,363.40 648.60,363.36 648.99,363.33 649.38,363.29 649.77,363.25 650.15,363.22 650.53,363.18 650.91,363.15 651.29,363.11 651.66,363.08 652.03,363.04 652.40,363.01 652.77,362.97 653.13,362.94 653.49,362.91 653.85,362.87 654.21,362.84 654.56,362.81 654.91,362.77 655.26,362.74 655.61,362.71 655.96,362.68 656.30,362.65 656.64,362.62 656.98,362.59 657.32,362.55 657.66,362.52 657.99,362.49 658.32,362.46 658.65,362.43 658.98,362.40 659.30,362.38 659.63,362.35 659.95,362.32 660.27,362.29 660.59,362.26 660.90,362.23 661.22,362.20 661.53,362.18 661.84,362.15 662.15,362.12 662.46,362.09 662.77,362.07 663.07,362.04 663.37,362.01 663.68,361.99 663.98,361.96 664.27,361.93 664.57,361.91 664.87,361.88 665.16,361.86 665.45,361.83 665.74,361.81 666.03,361.78 666.32,361.76 666.60,361.73 666.89,361.71 667.17,361.68 667.45,361.66"/><polyline points="369.70,415.22 408.65,406.21 431.44,401.10 447.61,397.69 460.15,395.19 470.39,393.25 479.06,391.69 486.56,390.40 493.18,389.30 499.10,388.36 504.46,387.53 509.35,386.79 513.84,386.14 518.01,385.55 521.89,385.01 525.51,384.52 528.92,384.07 532.13,383.65 535.17,383.27 538.05,382.91 540.80,382.57 543.41,382.26 545.91,381.97 548.30,381.69 550.59,381.43 552.80,381.18 554.92,380.94 556.96,380.72 558.93,380.50 560.84,380.30 562.68,380.11 564.47,379.92 566.20,379.74 567.87,379.57 569.50,379.41 571.09,379.25 572.63,379.10 574.12,378.95 575.58,378.81 577.01,378.68 578.39,378.54 579.75,378.42 581.07,378.29 582.36,378.18 583.63,378.06 584.86,377.95 586.07,377.84 587.25,377.74 588.41,377.63 589.55,377.53 590.66,377.44 591.75,377.34 592.82,377.25 593.87,377.16 594.90,377.07 595.92,376.99 596.91,376.91 597.89,376.83 598.85,376.75 599.79,376.67 600.72,376.59 601.64,376.52 602.53,376.45 603.42,376.38 604.29,376.31 605.15,376.24 605.99,376.18 606.83,376.11 607.65,376.05 608.46,375.99 609.25,375.93 610.04,375.87 610.81,375.81 611.58,375.75 612.33,375.69 613.08,375.64 613.81,375.58 614.54,375.53 615.25,375.48 615.96,375.43 616.66,375.38 617.35,375.33 618.03,375.28 618.70,375.23 619.37,375.18 620.02,375.13 620.67,375.09 621.32,375.04 621.95,375.00 622.58,374.96 623.20,374.91 623.81,374.87 624.42,374.83 625.02,374.79 625.62,374.75 626.21,374.71 626.79,374.67 627.36,374.63 627.94,374.59 628.50,374.55 629.06,374.52 629.61,374.48 630.16,374.44 630.70,374.41 631.24,374.37 631.77,374.34 632.30,374.30 632.83,374.27 633.34,374.24 633.86,374.20 634.36,374.17 634.87,374.14 635.37,374.11 635.86,374.08 636.35,374.04 636.84,374.01 637.32,373.98 637.80,373.95 638.28,373.92 638.75,373.90 639.21,373.87 639.67,373.84 640.13,373.81 640.59,373.78 641.04,373.75 641.49,373.73 641.93,373.70 642.37,373.67 642.81,373.65 643.24,373.62 643.67,373.59 644.10,373.57 644.53,373.54 644.95,373.52 645.37,373.49 645.78,373.47 646.19,373.45 646.60,373.42 647.01,373.40 647.41,373.37 647.81,373.35 648.21,373.33 648.60,373.30 648.99,373.28 649.38,373.26 649.77,373.24 650.15,373.22 650.53,373.19 650.91,373.17 651.29,373.15 651.66,373.13 652.03,373.11 652.40,373.09 652.77,373.07 653.13,373.05 653.49,373.03 653.85,373.01 654.21,372.99 654.56,372.97 654.91,372.95 655.26,372.93 655.61,372.91 655.96,372.89 656.30,372.87 656.64,372.85 656.98,372.83 657.32,372.82 657.66,372.80 657.99,372.78 658.32,372.76 658.65,372.74 658.98,372.73 659.30,372.71 659.63,372.69 659.95,372.67 660.27,372.66 660.59,372.64 660.90,372.62 661.22,372.61 661.53,372.59 661.84,372.57 662.15,372.56 662.46,372.54 662.77,372.52 663.07,372.51 663.37,372.49 663.68,372.48 663.98,372.46 664.27,372.45 664.57,372.43 664.87,372.42 665.16,372.40 665.45,372.39 665.74,372.37 666.03,372.36 666.32,372.34 666.60,372.33 666.89,372.31 667.17,372.30 667.45,372.28"/><polyline points="369.70,415.22 408.65,406.81 431.44,402.24 447.61,399.26 460.15,397.14 470.39,395.52 479.06,394.23 486.56,393.18 493.18,392.30 499.10,391.55 504.46,390.90 509.35,390.33 513.84,389.82 518.01,389.37 521.89,388.96 525.51,388.58 528.92,388.25 532.13,387.93 535.17,387.65 538.05,387.38 540.80,387.13 543.41,386.90 545.91,386.69 548.30,386.49 550.59,386.30 552.80,386.12 554.92,385.95 556.96,385.79 558.93,385.63 560.84,385.49 562.68,385.35 564.47,385.22 566.20,385.09 567.87,384.97 569.50,384.86 571.09,384.75 572.63,384.64 574.12,384.54 575.58,384.44 577.01,384.35 578.39,384.26 579.75,384.17 581.07,384.09 582.36,384.01 583.63,383.93 584.86,383.85 586.07,383.78 587.25,383.71 588.41,383.64 589.55,383.57 590.66,383.50 591.75,383.44 592.82,383.38 593.87,383.32 594.90,383.26 595.92,383.20 596.91,383.15 597.89,383.10 598.85,383.04 599.79,382.99 600.72,382.94 601.64,382.89 602.53,382.85 603.42,382.80 604.29,382.75 605.15,382.71 605.99,382.67 606.83,382.62 607.65,382.58 608.46,382.54 609.25,382.50 610.04,382.46 610.81,382.43 611.58,382.39 612.33,382.35 613.08,382.32 613.81,382.28 614.54,382.25 615.25,382.21 615.96,382.18 616.66,382.15 617.35,382.11 618.03,382.08 618.70,382.05 619.37,382.02 620.02,381.99 620.67,381.96 621.32,381.93 621.95,381.90 622.58,381.88 623.20,381.85 623.81,381.82 624.42,381.80 625.02,381.77 625.62,381.74 626.21,381.72 626.79,381.69 627.36,381.67 627.94,381.65 628.50,381.62 629.06,381.60 629.61,381.58 630.16,381.55 630.70,381.53 631.24,381.51 631.77,381.49 632.30,381.46 632.83,381.44 633.34,381.42 633.86,381.40 634.36,381.38 634.87,381.36 635.37,381.34 635.86,381.32 636.35,381.30 636.84,381.28 637.32,381.27 637.80,381.25 638.28,381.23 638.75,381.21 639.21,381.19 639.67,381.17 640.13,381.16 640.59,381.14 641.04,381.12 641.49,381.11 641.93,381.09 642.37,381.07 642.81,381.06 643.24,381.04 643.67,381.03 644.10,381.01 644.53,380.99 644.95,380.98 645.37,380.96 645.78,380.95 646.19,380.93 646.60,380.92 647.01,380.90 647.41,380.89 647.81,380.88 648.21,380.86 648.60,380.85 648.99,380.83 649.38,380.82 649.77,380.81 650.15,380.79 650.53,380.78 650.91,380.77 651.29,380.75 651.66,380.74 652.03,380.73 652.40,380.72 652.77,380.70 653.13,380.69 653.49,380.68 653.85,380.67 654.21,380.66 654.56,380.64 654.91,380.63 655.26,380.62 655.61,380.61 655.96,380.60 656.30,380.59 656.64,380.57 656.98,380.56 657.32,380.55 657.66,380.54 657.99,380.53 658.32,380.52 658.65,380.51 658.98,380.50 659.30,380.49 659.63,380.48 659.95,380.47 660.27,380.46 660.59,380.45 660.90,380.44 661.22,380.43 661.53,380.42 661.84,380.41 662.15,380.40 662.46,380.39 662.77,380.38 663.07,380.37 663.37,380.36 663.68,380.35 663.98,380.34 664.27,380.33 664.57,380.32 664.87,380.31 665.16,380.31 665.45,380.30 665.74,380.29 666.03,380.28 666.32,380.27 666.60,380.26 666.89,380.25 667.17,380.24 667.45,380.24"/><polyline points="369.70,415.22 408.65,407.38 431.44,403.28 447.61,400.69 460.15,398.88 470.39,397.52 479.06,396.47 486.56,395.61 493.18,394.91 499.10,394.31 504.46,393.80 509.35,393.35 513.84,392.96 518.01,392.61 521.89,392.30 525.51,392.02 528.92,391.76 532.13,391.53 535.17,391.31 538.05,391.12 540.80,390.93 543.41,390.76 545.91,390.61 548.30,390.46 550.59,390.32 552.80,390.19 554.92,390.07 556.96,389.95 558.93,389.85 560.84,389.74 562.68,389.65 564.47,389.55 566.20,389.46 567.87,389.38 569.50,389.30 571.09,389.22 572.63,389.15 574.12,389.08 575.58,389.01 577.01,388.95 578.39,388.88 579.75,388.82 581.07,388.77 582.36,388.71 583.63,388.66 584.86,388.60 586.07,388.55 587.25,388.50 588.41,388.46 589.55,388.41 590.66,388.37 591.75,388.33 592.82,388.28 593.87,388.24 594.90,388.20 595.92,388.17 596.91,388.13 597.89,388.09 598.85,388.06 599.79,388.03 600.72,387.99 601.64,387.96 602.53,387.93 603.42,387.90 604.29,387.87 605.15,387.84 605.99,387.81 606.83,387.78 607.65,387.76 608.46,387.73 609.25,387.70 610.04,387.68 610.81,387.65 611.58,387.63 612.33,387.60 613.08,387.58 613.81,387.56 614.54,387.54 615.25,387.51 615.96,387.49 616.66,387.47 617.35,387.45 618.03,387.43 618.70,387.41 619.37,387.39 620.02,387.37 620.67,387.35 621.32,387.34 621.95,387.32 622.58,387.30 623.20,387.28 623.81,387.26 624.42,387.25 625.02,387.23 625.62,387.22 626.21,387.20 626.79,387.18 627.36,387.17 627.94,387.15 628.50,387.14 629.06,387.12 629.61,387.11 630.16,387.09 630.70,387.08 631.24,387.07 631.77,387.05 632.30,387.04 632.83,387.03 633.34,387.01 633.86,387.00 634.36,386.99 634.87,386.97 635.37,386.96 635.86,386.95 636.35,386.94 636.84,386.93 637.32,386.91 637.80,386.90 638.28,386.89 638.75,386.88 639.21,386.87 639.67,386.86 640.13,386.85 640.59,386.84 641.04,386.83 641.49,386.82 641.93,386.81 642.37,386.80 642.81,386.79 643.24,386.78 643.67,386.77 644.10,386.76 644.53,386.75 644.95,386.74 645.37,386.73 645.78,386.72 646.19,386.71 646.60,386.70 647.01,386.69 647.41,386.68 647.81,386.68 648.21,386.67 648.60,386.66 648.99,386.65 649.38,386.64 649.77,386.63 650.15,386.63 650.53,386.62 650.91,386.61 651.29,386.60 651.66,386.59 652.03,386.59 652.40,386.58 652.77,386.57 653.13,386.56 653.49,386.56 653.85,386.55 654.21,386.54 654.56,386.53 654.91,386.53 655.26,386.52 655.61,386.51 655.96,386.51 656.30,386.50 656.64,386.49 656.98,386.49 657.32,386.48 657.66,386.47 657.99,386.47 658.32,386.46 658.65,386.45 658.98,386.45 659.30,386.44 659.63,386.44 659.95,386.43 660.27,386.42 660.59,386.42 660.90,386.41 661.22,386.40 661.53,386.40 661.84,386.39 662.15,386.39 662.46,386.38 662.77,386.38 663.07,386.37 663.37,386.36 663.68,386.36 663.98,386.35 664.27,386.35 664.57,386.34 664.87,386.34 665.16,386.33 665.45,386.33 665.74,386.32 666.03,386.32 666.32,386.31 666.60,386.31 666.89,386.30 667.17,386.30 667.45,386.29"/><polyline points="369.70,415.22 408.65,408.39 431.44,405.10 447.61,403.14 460.15,401.83 470.39,400.88 479.06,400.16 486.56,399.60 493.18,399.15 499.10,398.77 504.46,398.45 509.35,398.18 513.84,397.94 518.01,397.74 521.89,397.56 525.51,397.40 528.92,397.25 532.13,397.12 535.17,397.00 538.05,396.89 540.80,396.79 543.41,396.70 545.91,396.62 548.30,396.54 550.59,396.47 552.80,396.40 554.92,396.34 556.96,396.28 558.93,396.22 560.84,396.17 562.68,396.12 564.47,396.08 566.20,396.03 567.87,395.99 569.50,395.95 571.09,395.91 572.63,395.88 574.12,395.84 575.58,395.81 577.01,395.78 578.39,395.75 579.75,395.72 581.07,395.69 582.36,395.67 583.63,395.64 584.86,395.62 586.07,395.60 587.25,395.57 588.41,395.55 589.55,395.53 590.66,395.51 591.75,395.49 592.82,395.47 593.87,395.45 594.90,395.44 595.92,395.42 596.91,395.40 597.89,395.39 598.85,395.37 599.79,395.36 600.72,395.34 601.64,395.33 602.53,395.31 603.42,395.30 604.29,395.29 605.15,395.28 605.99,395.26 606.83,395.25 607.65,395.24 608.46,395.23 609.25,395.22 610.04,395.21 610.81,395.20 611.58,395.19 612.33,395.18 613.08,395.17 613.81,395.16 614.54,395.15 615.25,395.14 615.96,395.13 616.66,395.12 617.35,395.11 618.03,395.10 618.70,395.09 619.37,395.09 620.02,395.08 620.67,395.07 621.32,395.06 621.95,395.06 622.58,395.05 623.20,395.04 623.81,395.04 624.42,395.03 625.02,395.02 625.62,395.02 626.21,395.01 626.79,395.00 627.36,395.00 627.94,394.99 628.50,394.98 629.06,394.98 629.61,394.97 630.16,394.97 630.70,394.96 631.24,394.96 631.77,394.95 632.30,394.95 632.83,394.94 633.34,394.93 633.86,394.93 634.36,394.92 634.87,394.92 635.37,394.92 635.86,394.91 636.35,394.91 636.84,394.90 637.32,394.90 637.80,394.89 638.28,394.89 638.75,394.88 639.21,394.88 639.67,394.88 640.13,394.87 640.59,394.87 641.04,394.86 641.49,394.86 641.93,394.86 642.37,394.85 642.81,394.85 643.24,394.84 643.67,394.84 644.10,394.84 644.53,394.83 644.95,394.83 645.37,394.83 645.78,394.82 646.19,394.82 646.60,394.82 647.01,394.81 647.41,394.81 647.81,394.81 648.21,394.80 648.60,394.80 648.99,394.80 649.38,394.79 649.77,394.79 650.15,394.79 650.53,394.78 650.91,394.78 651.29,394.78 651.66,394.78 652.03,394.77 652.40,394.77 652.77,394.77 653.13,394.77 653.49,394.76 653.85,394.76 654.21,394.76 654.56,394.75 654.91,394.75 655.26,394.75 655.61,394.75 655.96,394.74 656.30,394.74 656.64,394.74 656.98,394.74 657.32,394.73 657.66,394.73 657.99,394.73 658.32,394.73 658.65,394.73 658.98,394.72 659.30,394.72 659.63,394.72 659.95,394.72 660.27,394.71 660.59,394.71 660.90,394.71 661.22,394.71 661.53,394.71 661.84,394.70 662.15,394.70 662.46,394.70 662.77,394.70 663.07,394.70 663.37,394.69 663.68,394.69 663.98,394.69 664.27,394.69 664.57,394.69 664.87,394.68 665.16,394.68 665.45,394.68 665.74,394.68 666.03,394.68 666.32,394.68 666.60,394.67 666.89,394.67 667.17,394.67 667.45,394.67"/><polyline points="369.70,415.22 408.65,409.27 431.44,406.63 447.61,405.15 460.15,404.20 470.39,403.53 479.06,403.05 486.56,402.68 493.18,402.38 499.10,402.15 504.46,401.95 509.35,401.78 513.84,401.64 518.01,401.52 521.89,401.42 525.51,401.32 528.92,401.24 532.13,401.17 535.17,401.10 538.05,401.04 540.80,400.99 543.41,400.94 545.91,400.90 548.30,400.85 550.59,400.82 552.80,400.78 554.92,400.75 556.96,400.72 558.93,400.69 560.84,400.66 562.68,400.64 564.47,400.62 566.20,400.59 567.87,400.57 569.50,400.55 571.09,400.53 572.63,400.52 574.12,400.50 575.58,400.49 577.01,400.47 578.39,400.46 579.75,400.44 581.07,400.43 582.36,400.42 583.63,400.41 584.86,400.39 586.07,400.38 587.25,400.37 588.41,400.36 589.55,400.35 590.66,400.35 591.75,400.34 592.82,400.33 593.87,400.32 594.90,400.31 595.92,400.30 596.91,400.30 597.89,400.29 598.85,400.28 599.79,400.28 600.72,400.27 601.64,400.26 602.53,400.26 603.42,400.25 604.29,400.25 605.15,400.24 605.99,400.24 606.83,400.23 607.65,400.23 608.46,400.22 609.25,400.22 610.04,400.21 610.81,400.21 611.58,400.20 612.33,400.20 613.08,400.19 613.81,400.19 614.54,400.19 615.25,400.18 615.96,400.18 616.66,400.18 617.35,400.17 618.03,400.17 618.70,400.16 619.37,400.16 620.02,400.16 620.67,400.16 621.32,400.15 621.95,400.15 622.58,400.15 623.20,400.14 623.81,400.14 624.42,400.14 625.02,400.14 625.62,400.13 626.21,400.13 626.79,400.13 627.36,400.12 627.94,400.12 628.50,400.12 629.06,400.12 629.61,400.12 630.16,400.11 630.70,400.11 631.24,400.11 631.77,400.11 632.30,400.10 632.83,400.10 633.34,400.10 633.86,400.10 634.36,400.10 634.87,400.09 635.37,400.09 635.86,400.09 636.35,400.09 636.84,400.09 637.32,400.09 637.80,400.08 638.28,400.08 638.75,400.08 639.21,400.08 639.67,400.08 640.13,400.08 640.59,400.07 641.04,400.07 641.49,400.07 641.93,400.07 642.37,400.07 642.81,400.07 643.24,400.07 643.67,400.06 644.10,400.06 644.53,400.06 644.95,400.06 645.37,400.06 645.78,400.06 646.19,400.06 646.60,400.06 647.01,400.05 647.41,400.05 647.81,400.05 648.21,400.05 648.60,400.05 648.99,400.05 649.38,400.05 649.77,400.05 650.15,400.04 650.53,400.04 650.91,400.04 651.29,400.04 651.66,400.04 652.03,400.04 652.40,400.04 652.77,400.04 653.13,400.04 653.49,400.04 653.85,400.03 654.21,400.03 654.56,400.03 654.91,400.03 655.26,400.03 655.61,400.03 655.96,400.03 656.30,400.03 656.64,400.03 656.98,400.03 657.32,400.03 657.66,400.02 657.99,400.02 658.32,400.02 658.65,400.02 658.98,400.02 659.30,400.02 659.63,400.02 659.95,400.02 660.27,400.02 660.59,400.02 660.90,400.02 661.22,400.02 661.53,400.02 661.84,400.01 662.15,400.01 662.46,400.01 662.77,400.01 663.07,400.01 663.37,400.01 663.68,400.01 663.98,400.01 664.27,400.01 664.57,400.01 664.87,400.01 665.16,400.01 665.45,400.01 665.74,400.01 666.03,400.01 666.32,400.00 666.60,400.00 666.89,400.00 667.17,400.00 667.45,400.00"/><polyline points="369.70,415.22 408.65,412.25 431.44,411.37 447.61,411.00 460.15,410.80 470.39,410.69 479.06,410.63 486.56,410.58 493.18,410.55 499.10,410.52 504.46,410.50 509.35,410.49 513.84,410.48 518.01,410.47 521.89,410.46 525.51,410.46 528.92,410.45 532.13,410.45 535.17,410.45 538.05,410.44 540.80,410.44 543.41,410.44 545.91,410.44 548.30,410.43 550.59,410.43 552.80,410.43 554.92,410.43 556.96,410.43 558.93,410.43 560.84,410.43 562.68,410.43 564.47,410.43 566.20,410.43 567.87,410.43 569.50,410.42 571.09,410.42 572.63,410.42 574.12,410.42 575.58,410.42 577.01,410.42 578.39,410.42 579.75,410.42 581.07,410.42 582.36,410.42 583.63,410.42 584.86,410.42 586.07,410.42 587.25,410.42 588.41,410.42 589.55,410.42 590.66,410.42 591.75,410.42 592.82,410.42 593.87,410.42 594.90,410.42 595.92,410.42 596.91,410.42 597.89,410.42 598.85,410.42 599.79,410.42 600.72,410.42 601.64,410.42 602.53,410.42 603.42,410.42 604.29,410.42 605.15,410.42 605.99,410.42 606.83,410.42 607.65,410.42 608.46,410.42 609.25,410.42 610.04,410.42 610.81,410.42 611.58,410.42 612.33,410.42 613.08,410.42 613.81,410.42 614.54,410.42 615.25,410.42 615.96,410.42 616.66,410.42 617.35,410.42 618.03,410.42 618.70,410.42 619.37,410.42 620.02,410.42 620.67,410.42 621.32,410.42 621.95,410.42 622.58,410.42 623.20,410.42 623.81,410.42 624.42,410.42 625.02,410.42 625.62,410.42 626.21,410.42 626.79,410.42 627.36,410.42 627.94,410.42 628.50,410.42 629.06,410.42 629.61,410.42 630.16,410.42 630.70,410.42 631.24,410.42 631.77,410.42 632.30,410.42 632.83,410.42 633.34,410.42 633.86,410.42 634.36,410.42 634.87,410.42 635.37,410.42 635.86,410.42 636.35,410.42 636.84,410.42 637.32,410.42 637.80,410.42 638.28,410.42 638.75,410.42 639.21,410.42 639.67,410.42 640.13,410.42 640.59,410.42 641.04,410.42 641.49,410.42 641.93,410.42 642.37,410.42 642.81,410.42 643.24,410.42 643.67,410.42 644.10,410.42 644.53,410.42 644.95,410.42 645.37,410.42 645.78,410.42 646.19,410.42 646.60,410.42 647.01,410.42 647.41,410.42 647.81,410.42 648.21,410.42 648.60,410.42 648.99,410.42 649.38,410.42 649.77,410.42 650.15,410.42 650.53,410.42 650.91,410.42 651.29,410.42 651.66,410.42 652.03,410.42 652.40,410.42 652.77,410.42 653.13,410.42 653.49,410.42 653.85,410.42 654.21,410.42 654.56,410.42 654.91,410.42 655.26,410.42 655.61,410.42 655.96,410.42 656.30,410.42 656.64,410.42 656.98,410.42 657.32,410.42 657.66,410.42 657.99,410.42 658.32,410.42 658.65,410.42 658.98,410.42 659.30,410.42 659.63,410.42 659.95,410.42 660.27,410.42 660.59,410.42 660.90,410.42 661.22,410.42 661.53,410.42 661.84,410.42 662.15,410.42 662.46,410.42 662.77,410.42 663.07,410.42 663.37,410.42 663.68,410.42 663.98,410.42 664.27,410.42 664.57,410.42 664.87,410.42 665.16,410.42 665.45,410.42 665.74,410.42 666.03,410.42 666.32,410.42 666.60,410.42 666.89,410.42 667.17,410.42 667.45,410.42"/><polyline points="369.70,415.22 408.65,413.73 431.44,413.44 447.61,413.35 460.15,413.31 470.39,413.29 479.06,413.28 486.56,413.28 493.18,413.27 499.10,413.27 504.46,413.27 509.35,413.27 513.84,413.27 518.01,413.26 521.89,413.26 525.51,413.26 528.92,413.26 532.13,413.26 535.17,413.26 538.05,413.26 540.80,413.26 543.41,413.26 545.91,413.26 548.30,413.26 550.59,413.26 552.80,413.26 554.92,413.26 556.96,413.26 558.93,413.26 560.84,413.26 562.68,413.26 564.47,413.26 566.20,413.26 567.87,413.26 569.50,413.26 571.09,413.26 572.63,413.26 574.12,413.26 575.58,413.26 577.01,413.26 578.39,413.26 579.75,413.26 581.07,413.26 582.36,413.26 583.63,413.26 584.86,413.26 586.07,413.26 587.25,413.26 588.41,413.26 589.55,413.26 590.66,413.26 591.75,413.26 592.82,413.26 593.87,413.26 594.90,413.26 595.92,413.26 596.91,413.26 597.89,413.26 598.85,413.26 599.79,413.26 600.72,413.26 601.64,413.26 602.53,413.26 603.42,413.26 604.29,413.26 605.15,413.26 605.99,413.26 606.83,413.26 607.65,413.26 608.46,413.26 609.25,413.26 610.04,413.26 610.81,413.26 611.58,413.26 612.33,413.26 613.08,413.26 613.81,413.26 614.54,413.26 615.25,413.26 615.96,413.26 616.66,413.26 617.35,413.26 618.03,413.26 618.70,413.26 619.37,413.26 620.02,413.26 620.67,413.26 621.32,413.26 621.95,413.26 622.58,413.26 623.20,413.26 623.81,413.26 624.42,413.26 625.02,413.26 625.62,413.26 626.21,413.26 626.79,413.26 627.36,413.26 627.94,413.26 628.50,413.26 629.06,413.26 629.61,413.26 630.16,413.26 630.70,413.26 631.24,413.26 631.77,413.26 632.30,413.26 632.83,413.26 633.34,413.26 633.86,413.26 634.36,413.26 634.87,413.26 635.37,413.26 635.86,413.26 636.35,413.26 636.84,413.26 637.32,413.26 637.80,413.26 638.28,413.26 638.75,413.26 639.21,413.26 639.67,413.26 640.13,413.26 640.59,413.26 641.04,413.26 641.49,413.26 641.93,413.26 642.37,413.26 642.81,413.26 643.24,413.26 643.67,413.26 644.10,413.26 644.53,413.26 644.95,413.26 645.37,413.26 645.78,413.26 646.19,413.26 646.60,413.26 647.01,413.26 647.41,413.26 647.81,413.26 648.21,413.26 648.60,413.26 648.99,413.26 649.38,413.26 649.77,413.26 650.15,413.26 650.53,413.26 650.91,413.26 651.29,413.26 651.66,413.26 652.03,413.26 652.40,413.26 652.77,413.26 653.13,413.26 653.49,413.26 653.85,413.26 654.21,413.26 654.56,413.26 654.91,413.26 655.26,413.26 655.61,413.26 655.96,413.26 656.30,413.26 656.64,413.26 656.98,413.26 657.32,413.26 657.66,413.26 657.99,413.26 658.32,413.26 658.65,413.26 658.98,413.26 659.30,413.26 659.63,413.26 659.95,413.26 660.27,413.26 660.59,413.26 660.90,413.26 661.22,413.26 661.53,413.26 661.84,413.26 662.15,413.26 662.46,413.26 662.77,413.26 663.07,413.26 663.37,413.26 663.68,413.26 663.98,413.26 664.27,413.26 664.57,413.26 664.87,413.26 665.16,413.26 665.45,413.26 665.74,413.26 666.03,413.26 666.32,413.26 666.60,413.26 666.89,413.26 667.17,413.26 667.45,413.26"/></g>
<polyline points="369.70,414.82 408.65,405.23 431.44,399.59 447.61,395.72 460.15,392.83 470.39,390.56 479.06,388.70 486.56,387.14 493.18,385.80 499.10,384.64 504.46,383.61 509.35,382.69 513.84,381.87 518.01,381.12 521.89,380.43 525.51,379.81 528.92,379.22 532.13,378.68 535.17,378.18 538.05,377.71 540.80,377.27 543.41,376.86 545.91,376.47 548.30,376.10 550.59,375.75 552.80,375.41 554.92,375.10 556.96,374.79 558.93,374.50 560.84,374.23 562.68,373.96 564.47,373.71 566.20,373.47 567.87,373.23 569.50,373.01 571.09,372.79 572.63,372.58 574.12,372.38 575.58,372.18 577.01,371.99 578.39,371.81 579.75,371.63 581.07,371.46 582.36,371.29 583.63,371.13 584.86,370.97 586.07,370.82 587.25,370.67 588.41,370.52 589.55,370.38 590.66,370.24 591.75,370.11 592.82,369.98 593.87,369.85 594.90,369.72 595.92,369.60 596.91,369.48 597.89,369.37 598.85,369.25 599.79,369.14 600.72,369.03 601.64,368.93 602.53,368.82 603.42,368.72 604.29,368.62 605.15,368.52 605.99,368.42 606.83,368.33 607.65,368.24 608.46,368.15 609.25,368.06 610.04,367.97 610.81,367.88 611.58,367.80 612.33,367.72 613.08,367.63 613.81,367.55 614.54,367.47 615.25,367.40 615.96,367.32 616.66,367.24 617.35,367.17 618.03,367.10 618.70,367.03 619.37,366.96 620.02,366.89 620.67,366.82 621.32,366.75 621.95,366.68 622.58,366.62 623.20,366.55 623.81,366.49 624.42,366.43 625.02,366.37 625.62,366.30 626.21,366.24 626.79,366.18 627.36,366.13 627.94,366.07 628.50,366.01 629.06,365.96 629.61,365.90 630.16,365.84 630.70,365.79 631.24,365.74 631.77,365.68 632.30,365.63 632.83,365.58 633.34,365.53 633.86,365.48 634.36,365.43 634.87,365.38 635.37,365.33 635.86,365.28 636.35,365.24 636.84,365.19 637.32,365.14 637.80,365.10 638.28,365.05 638.75,365.01 639.21,364.96 639.67,364.92 640.13,364.87 640.59,364.83 641.04,364.79 641.49,364.75 641.93,364.71 642.37,364.66 642.81,364.62 643.24,364.58 643.67,364.54 644.10,364.50 644.53,364.46 644.95,364.42 645.37,364.39 645.78,364.35 646.19,364.31 646.60,364.27 647.01,364.24 647.41,364.20 647.81,364.16 648.21,364.13 648.60,364.09 648.99,364.06 649.38,364.02 649.77,363.99 650.15,363.95 650.53,363.92 650.91,363.88 651.29,363.85 651.66,363.82 652.03,363.78 652.40,363.75 652.77,363.72 653.13,363.69 653.49,363.65 653.85,363.62 654.21,363.59 654.56,363.56 654.91,363.53 655.26,363.50 655.61,363.47 655.96,363.44 656.30,363.41 656.64,363.38 656.98,363.35 657.32,363.32 657.66,363.29 657.99,363.26 658.32,363.23 658.65,363.21 658.98,363.18 659.30,363.15 659.63,363.12 659.95,363.10 660.27,363.07 660.59,363.04 660.90,363.01 661.22,362.99 661.53,362.96 661.84,362.94 662.15,362.91 662.46,362.88 662.77,362.86 663.07,362.83 663.37,362.81 663.68,362.78 663.98,362.76 664.27,362.73 664.57,362.71 664.87,362.68 665.16,362.66 665.45,362.63 665.74,362.61 666.03,362.59 666.32,362.56 666.60,362.54 666.89,362.52 667.17,362.49 667.45,362.47" fill="none" stroke="#0a0af5" stroke-width="1.70" stroke-linejoin="round"/>
<circle cx="370.3" cy="414.9" r="1.1" fill="#000"/>
<circle cx="408.7" cy="407.9" r="1.1" fill="#000"/>
<circle cx="431.7" cy="400.8" r="1.1" fill="#000"/>
<circle cx="447.2" cy="396.4" r="1.1" fill="#000"/>
<circle cx="459.8" cy="393.0" r="1.1" fill="#000"/>
<circle cx="470.0" cy="389.8" r="1.1" fill="#000"/>
<circle cx="478.8" cy="387.4" r="1.1" fill="#000"/>
<rect x="370.5" y="11.0" width="147.0" height="189.5" fill="#fff" stroke="#eea450" stroke-width="1"/>
<g stroke="#ec9a3a" stroke-width="1" fill="none"><line x1="385.4" y1="26.5" x2="385.4" y2="188.0"/><line x1="382.9" y1="185.7" x2="499.0" y2="185.7"/><line x1="382.9" y1="40.0" x2="385.4" y2="40.0"/><line x1="382.9" y1="58.2" x2="385.4" y2="58.2"/><line x1="382.9" y1="76.4" x2="385.4" y2="76.4"/><line x1="382.9" y1="94.6" x2="385.4" y2="94.6"/><line x1="382.9" y1="112.9" x2="385.4" y2="112.9"/><line x1="382.9" y1="131.1" x2="385.4" y2="131.1"/><line x1="382.9" y1="149.3" x2="385.4" y2="149.3"/><line x1="382.9" y1="167.5" x2="385.4" y2="167.5"/><line x1="382.9" y1="185.7" x2="385.4" y2="185.7"/><line x1="384.8" y1="185.7" x2="385.4" y2="185.7"/><line x1="384.8" y1="183.9" x2="385.4" y2="183.9"/><line x1="384.8" y1="182.1" x2="385.4" y2="182.1"/><line x1="384.8" y1="180.2" x2="385.4" y2="180.2"/><line x1="384.8" y1="178.4" x2="385.4" y2="178.4"/><line x1="384.8" y1="176.6" x2="385.4" y2="176.6"/><line x1="384.8" y1="174.8" x2="385.4" y2="174.8"/><line x1="384.8" y1="173.0" x2="385.4" y2="173.0"/><line x1="384.8" y1="171.1" x2="385.4" y2="171.1"/><line x1="384.8" y1="169.3" x2="385.4" y2="169.3"/><line x1="384.8" y1="167.5" x2="385.4" y2="167.5"/><line x1="384.8" y1="165.7" x2="385.4" y2="165.7"/><line x1="384.8" y1="163.8" x2="385.4" y2="163.8"/><line x1="384.8" y1="162.0" x2="385.4" y2="162.0"/><line x1="384.8" y1="160.2" x2="385.4" y2="160.2"/><line x1="384.8" y1="158.4" x2="385.4" y2="158.4"/><line x1="384.8" y1="156.6" x2="385.4" y2="156.6"/><line x1="384.8" y1="154.7" x2="385.4" y2="154.7"/><line x1="384.8" y1="152.9" x2="385.4" y2="152.9"/><line x1="384.8" y1="151.1" x2="385.4" y2="151.1"/><line x1="384.8" y1="149.3" x2="385.4" y2="149.3"/><line x1="384.8" y1="147.5" x2="385.4" y2="147.5"/><line x1="384.8" y1="145.6" x2="385.4" y2="145.6"/><line x1="384.8" y1="143.8" x2="385.4" y2="143.8"/><line x1="384.8" y1="142.0" x2="385.4" y2="142.0"/><line x1="384.8" y1="140.2" x2="385.4" y2="140.2"/><line x1="384.8" y1="138.4" x2="385.4" y2="138.4"/><line x1="384.8" y1="136.5" x2="385.4" y2="136.5"/><line x1="384.8" y1="134.7" x2="385.4" y2="134.7"/><line x1="384.8" y1="132.9" x2="385.4" y2="132.9"/><line x1="384.8" y1="131.1" x2="385.4" y2="131.1"/><line x1="384.8" y1="129.2" x2="385.4" y2="129.2"/><line x1="384.8" y1="127.4" x2="385.4" y2="127.4"/><line x1="384.8" y1="125.6" x2="385.4" y2="125.6"/><line x1="384.8" y1="123.8" x2="385.4" y2="123.8"/><line x1="384.8" y1="122.0" x2="385.4" y2="122.0"/><line x1="384.8" y1="120.1" x2="385.4" y2="120.1"/><line x1="384.8" y1="118.3" x2="385.4" y2="118.3"/><line x1="384.8" y1="116.5" x2="385.4" y2="116.5"/><line x1="384.8" y1="114.7" x2="385.4" y2="114.7"/><line x1="384.8" y1="112.9" x2="385.4" y2="112.9"/><line x1="384.8" y1="111.0" x2="385.4" y2="111.0"/><line x1="384.8" y1="109.2" x2="385.4" y2="109.2"/><line x1="384.8" y1="107.4" x2="385.4" y2="107.4"/><line x1="384.8" y1="105.6" x2="385.4" y2="105.6"/><line x1="384.8" y1="103.8" x2="385.4" y2="103.8"/><line x1="384.8" y1="101.9" x2="385.4" y2="101.9"/><line x1="384.8" y1="100.1" x2="385.4" y2="100.1"/><line x1="384.8" y1="98.3" x2="385.4" y2="98.3"/><line x1="384.8" y1="96.5" x2="385.4" y2="96.5"/><line x1="384.8" y1="94.6" x2="385.4" y2="94.6"/><line x1="384.8" y1="92.8" x2="385.4" y2="92.8"/><line x1="384.8" y1="91.0" x2="385.4" y2="91.0"/><line x1="384.8" y1="89.2" x2="385.4" y2="89.2"/><line x1="384.8" y1="87.4" x2="385.4" y2="87.4"/><line x1="384.8" y1="85.5" x2="385.4" y2="85.5"/><line x1="384.8" y1="83.7" x2="385.4" y2="83.7"/><line x1="384.8" y1="81.9" x2="385.4" y2="81.9"/><line x1="384.8" y1="80.1" x2="385.4" y2="80.1"/><line x1="384.8" y1="78.3" x2="385.4" y2="78.3"/><line x1="384.8" y1="76.4" x2="385.4" y2="76.4"/><line x1="384.8" y1="74.6" x2="385.4" y2="74.6"/><line x1="384.8" y1="72.8" x2="385.4" y2="72.8"/><line x1="384.8" y1="71.0" x2="385.4" y2="71.0"/><line x1="384.8" y1="69.2" x2="385.4" y2="69.2"/><line x1="384.8" y1="67.3" x2="385.4" y2="67.3"/><line x1="384.8" y1="65.5" x2="385.4" y2="65.5"/><line x1="384.8" y1="63.7" x2="385.4" y2="63.7"/><line x1="384.8" y1="61.9" x2="385.4" y2="61.9"/><line x1="384.8" y1="60.1" x2="385.4" y2="60.1"/><line x1="384.8" y1="58.2" x2="385.4" y2="58.2"/><line x1="384.8" y1="56.4" x2="385.4" y2="56.4"/><line x1="384.8" y1="54.6" x2="385.4" y2="54.6"/><line x1="384.8" y1="52.8" x2="385.4" y2="52.8"/><line x1="384.8" y1="50.9" x2="385.4" y2="50.9"/><line x1="384.8" y1="49.1" x2="385.4" y2="49.1"/><line x1="384.8" y1="47.3" x2="385.4" y2="47.3"/><line x1="384.8" y1="45.5" x2="385.4" y2="45.5"/><line x1="384.8" y1="43.7" x2="385.4" y2="43.7"/><line x1="384.8" y1="41.8" x2="385.4" y2="41.8"/><line x1="384.8" y1="40.0" x2="385.4" y2="40.0"/><line x1="384.8" y1="38.2" x2="385.4" y2="38.2"/><line x1="388.6" y1="185.7" x2="388.6" y2="187.0"/><line x1="392.3" y1="185.7" x2="392.3" y2="187.0"/><line x1="396.2" y1="185.7" x2="396.2" y2="187.0"/><line x1="400.1" y1="185.7" x2="400.1" y2="187.0"/><line x1="403.6" y1="185.7" x2="403.6" y2="187.0"/><line x1="407.3" y1="185.7" x2="407.3" y2="187.0"/><line x1="411.0" y1="185.7" x2="411.0" y2="187.0"/><line x1="414.6" y1="185.7" x2="414.6" y2="187.0"/><line x1="418.3" y1="185.7" x2="418.3" y2="187.0"/><line x1="421.3" y1="185.7" x2="421.3" y2="187.0"/><line x1="425.3" y1="185.7" x2="425.3" y2="187.0"/><line x1="429.4" y1="185.7" x2="429.4" y2="187.0"/><line x1="433.1" y1="185.7" x2="433.1" y2="187.0"/><line x1="436.4" y1="185.7" x2="436.4" y2="187.0"/><line x1="439.9" y1="185.7" x2="439.9" y2="187.0"/><line x1="443.9" y1="185.7" x2="443.9" y2="187.0"/><line x1="447.6" y1="185.7" x2="447.6" y2="187.0"/><line x1="451.3" y1="185.7" x2="451.3" y2="187.0"/><line x1="454.6" y1="185.7" x2="454.6" y2="187.0"/><line x1="458.5" y1="185.7" x2="458.5" y2="187.0"/><line x1="462.6" y1="185.7" x2="462.6" y2="187.0"/><line x1="466.4" y1="185.7" x2="466.4" y2="187.0"/><line x1="469.4" y1="185.7" x2="469.4" y2="187.0"/><line x1="472.8" y1="185.7" x2="472.8" y2="187.0"/><line x1="476.6" y1="185.7" x2="476.6" y2="187.0"/><line x1="480.4" y1="185.7" x2="480.4" y2="187.0"/><line x1="484.6" y1="185.7" x2="484.6" y2="187.0"/><line x1="487.7" y1="185.7" x2="487.7" y2="187.0"/><line x1="491.5" y1="185.7" x2="491.5" y2="187.0"/><line x1="495.6" y1="185.7" x2="495.6" y2="187.0"/><line x1="385.4" y1="185.7" x2="385.4" y2="188.0"/><line x1="421.6" y1="185.7" x2="421.6" y2="188.0"/><line x1="458.6" y1="185.7" x2="458.6" y2="188.0"/><line x1="495.6" y1="185.7" x2="495.6" y2="188.0"/></g>
<g stroke-width="1"><line x1="392.3" y1="170.1" x2="392.3" y2="185.7" stroke="#ec9a3a"/><line x1="396.2" y1="164.5" x2="396.2" y2="185.7" stroke="#ec9a3a"/><line x1="400.1" y1="150.5" x2="400.1" y2="185.7" stroke="#ec9a3a"/><line x1="403.6" y1="119.8" x2="403.6" y2="185.7" stroke="#ec9a3a"/><line x1="407.3" y1="119.8" x2="407.3" y2="185.7" stroke="#ec9a3a"/><line x1="411.0" y1="113.6" x2="411.0" y2="185.7" stroke="#ec9a3a"/><line x1="414.6" y1="66.1" x2="414.6" y2="185.7" stroke="#ec9a3a"/><line x1="418.3" y1="66.1" x2="418.3" y2="185.7" stroke="#ec9a3a"/><line x1="421.3" y1="56.9" x2="421.3" y2="185.7" stroke="#ec9a3a"/><line x1="425.3" y1="28.2" x2="425.3" y2="185.7" stroke="#ec9a3a"/><line x1="429.4" y1="80.6" x2="429.4" y2="185.7" stroke="#222"/><line x1="433.1" y1="82.2" x2="433.1" y2="185.7" stroke="#ec9a3a"/><line x1="436.4" y1="98.8" x2="436.4" y2="185.7" stroke="#ec9a3a"/><line x1="439.9" y1="113.3" x2="439.9" y2="185.7" stroke="#ec9a3a"/><line x1="443.9" y1="122.6" x2="443.9" y2="185.7" stroke="#ec9a3a"/><line x1="447.6" y1="135.3" x2="447.6" y2="185.7" stroke="#ec9a3a"/><line x1="451.3" y1="151.7" x2="451.3" y2="185.7" stroke="#ec9a3a"/><line x1="454.6" y1="151.7" x2="454.6" y2="185.7" stroke="#ec9a3a"/><line x1="458.5" y1="166.4" x2="458.5" y2="185.7" stroke="#ec9a3a"/><line x1="462.6" y1="181.0" x2="462.6" y2="185.7" stroke="#ec9a3a"/><line x1="466.4" y1="175.8" x2="466.4" y2="185.7" stroke="#ec9a3a"/><line x1="469.4" y1="179.7" x2="469.4" y2="185.7" stroke="#ec9a3a"/><line x1="472.8" y1="176.1" x2="472.8" y2="185.7" stroke="#ec9a3a"/><line x1="476.6" y1="181.1" x2="476.6" y2="185.7" stroke="#ec9a3a"/><line x1="484.6" y1="181.1" x2="484.6" y2="185.7" stroke="#ec9a3a"/><line x1="495.6" y1="183.2" x2="495.6" y2="185.7" stroke="#ec9a3a"/></g>
<g fill="#e48a26" stroke="#e48a26" stroke-width="0.30"><text transform="translate(373.62,42.12) scale(0.830,1)" font-size="10.30">80</text><text transform="translate(373.62,60.33) scale(0.830,1)" font-size="10.30">70</text><text transform="translate(373.62,78.54) scale(0.830,1)" font-size="10.30">60</text><text transform="translate(373.62,96.75) scale(0.830,1)" font-size="10.30">50</text><text transform="translate(373.62,114.96) scale(0.830,1)" font-size="10.30">40</text><text transform="translate(373.62,133.17) scale(0.830,1)" font-size="10.30">30</text><text transform="translate(373.62,151.38) scale(0.830,1)" font-size="10.30">20</text><text transform="translate(373.62,169.59) scale(0.830,1)" font-size="10.30">10</text><text transform="translate(378.38,187.80) scale(0.830,1)" font-size="10.30">0</text><text transform="translate(381.91,26.40) scale(0.830,1)" font-size="10.30">N</text><text transform="translate(386.42,195.20) scale(0.830,1)" font-size="10.30">0</text><text transform="translate(421.91,195.20) scale(0.830,1)" font-size="10.30">1</text><text transform="translate(459.22,195.20) scale(0.830,1)" font-size="10.30">2</text><text transform="translate(495.75,195.20) scale(0.830,1)" font-size="10.30">3M</text></g>
<g fill="#111" stroke="#111" stroke-width="0.4"><text transform="translate(452.79,28.10) scale(0.785,1)" font-size="10.30">20141125-23:21</text><text transform="translate(452.79,38.20) scale(0.801,1)" font-size="10.30">20141202-18:59</text><text transform="translate(463.76,48.30) scale(0.775,1)" font-size="10.30">dt: 24</text><text transform="translate(462.73,58.40) scale(0.798,1)" font-size="10.30">Mmin: 1.2</text><text transform="translate(463.57,68.50) scale(0.794,1)" font-size="10.30">b : 1.04</text><text transform="translate(463.55,88.70) scale(0.772,1)" font-size="10.30">h : 1.31</text><text transform="translate(462.73,98.80) scale(0.787,1)" font-size="10.30">Mmax: 3.9</text></g>
<rect x="370.5" y="11.0" width="297.5" height="428.0" fill="none" stroke="#eea450" stroke-width="1"/>
<g fill="#e48a26" stroke="#e48a26" stroke-width="0.30"><text transform="translate(359.27,440.70) scale(0.830,1)" font-size="10.30">0</text><text transform="translate(358.95,416.92) scale(0.830,1)" font-size="10.30">1</text><text transform="translate(359.17,393.14) scale(0.830,1)" font-size="10.30">2</text><text transform="translate(359.27,369.36) scale(0.830,1)" font-size="10.30">3</text><text transform="translate(359.40,345.58) scale(0.830,1)" font-size="10.30">4</text><text transform="translate(359.26,321.80) scale(0.830,1)" font-size="10.30">5</text><text transform="translate(359.17,298.02) scale(0.830,1)" font-size="10.30">6</text><text transform="translate(359.16,274.24) scale(0.830,1)" font-size="10.30">7</text><text transform="translate(359.23,250.46) scale(0.830,1)" font-size="10.30">8</text><text transform="translate(359.20,226.68) scale(0.830,1)" font-size="10.30">9</text><text transform="translate(358.95,202.90) scale(0.830,1)" font-size="10.30">10</text><text transform="translate(358.95,179.12) scale(0.830,1)" font-size="10.30">11</text><text transform="translate(358.95,155.34) scale(0.830,1)" font-size="10.30">12</text><text transform="translate(358.95,131.56) scale(0.830,1)" font-size="10.30">13</text><text transform="translate(358.95,107.78) scale(0.830,1)" font-size="10.30">14</text><text transform="translate(358.95,84.00) scale(0.830,1)" font-size="10.30">15</text><text transform="translate(358.95,60.22) scale(0.830,1)" font-size="10.30">16</text><text transform="translate(358.95,36.44) scale(0.830,1)" font-size="10.30">17</text><text transform="translate(358.95,12.66) scale(0.830,1)" font-size="10.30">18</text><text transform="translate(368.01,450.20) scale(0.830,1)" font-size="10.30">1</text><text transform="translate(407.08,450.20) scale(0.830,1)" font-size="10.30">2</text><text transform="translate(429.89,450.20) scale(0.830,1)" font-size="10.30">3</text><text transform="translate(446.06,450.20) scale(0.830,1)" font-size="10.30">4</text><text transform="translate(458.58,450.20) scale(0.830,1)" font-size="10.30">5</text><text transform="translate(468.79,450.20) scale(0.830,1)" font-size="10.30">6</text><text transform="translate(477.47,450.20) scale(0.830,1)" font-size="10.30">7</text><text transform="translate(484.98,450.20) scale(0.830,1)" font-size="10.30">8</text><text transform="translate(491.60,450.20) scale(0.830,1)" font-size="10.30">9</text><text transform="translate(494.99,450.20) scale(0.830,1)" font-size="10.30">10</text><text transform="translate(534.05,450.20) scale(0.830,1)" font-size="10.30">20</text><text transform="translate(556.89,450.20) scale(0.830,1)" font-size="10.30">30</text><text transform="translate(573.12,450.20) scale(0.830,1)" font-size="10.30">40</text><text transform="translate(585.59,450.20) scale(0.830,1)" font-size="10.30">50</text><text transform="translate(604.45,450.20) scale(0.830,1)" font-size="10.30">70</text><text transform="translate(622.01,450.20) scale(0.830,1)" font-size="10.30">100</text><text transform="translate(661.07,450.20) scale(0.830,1)" font-size="10.30">200</text><text transform="translate(671.87,120.60) scale(0.830,1)" font-size="10.30">0.7</text><text transform="translate(671.87,206.00) scale(0.830,1)" font-size="10.30">0.8</text><text transform="translate(671.87,263.60) scale(0.830,1)" font-size="10.30">0.9</text><text transform="translate(671.55,303.40) scale(0.830,1)" font-size="10.30">1.0</text><text transform="translate(671.55,331.60) scale(0.830,1)" font-size="10.30">1.1</text><text transform="translate(671.55,351.80) scale(0.830,1)" font-size="10.30">1.2</text><text transform="translate(671.55,366.20) scale(0.830,1)" font-size="10.30">1.3</text><text transform="translate(671.55,376.70) scale(0.830,1)" font-size="10.30">1.4</text><text transform="translate(671.55,384.00) scale(0.830,1)" font-size="10.30">1.5</text><text transform="translate(671.55,390.60) scale(0.830,1)" font-size="10.30">1.6</text><text transform="translate(671.55,398.50) scale(0.830,1)" font-size="10.30">1.8</text><text transform="translate(671.77,404.80) scale(0.830,1)" font-size="10.30">2.0</text><text transform="translate(671.87,414.70) scale(0.830,1)" font-size="10.30">3.0</text><text transform="translate(672.00,423.90) scale(0.830,1)" font-size="10.30">4.0</text><text transform="translate(571.42,8.60) scale(0.830,1)" font-size="10.30">0.3</text><text transform="translate(592.83,8.60) scale(0.830,1)" font-size="10.30">0.4</text><text transform="translate(620.20,8.60) scale(0.830,1)" font-size="10.30">0.5</text><text transform="translate(656.44,8.60) scale(0.830,1)" font-size="10.30">0.6</text></g>
<g fill="#222"><text transform="translate(669.15,366.70) scale(0.830,1)" font-size="10.30">1.31</text></g>
<g fill="#000"><text transform="translate(350.89,476.40) scale(1.000,1)" font-size="18.50" font-weight="bold" style="font-family:'Liberation Serif'">(b)</text></g>
</g>
</svg></body></html>
